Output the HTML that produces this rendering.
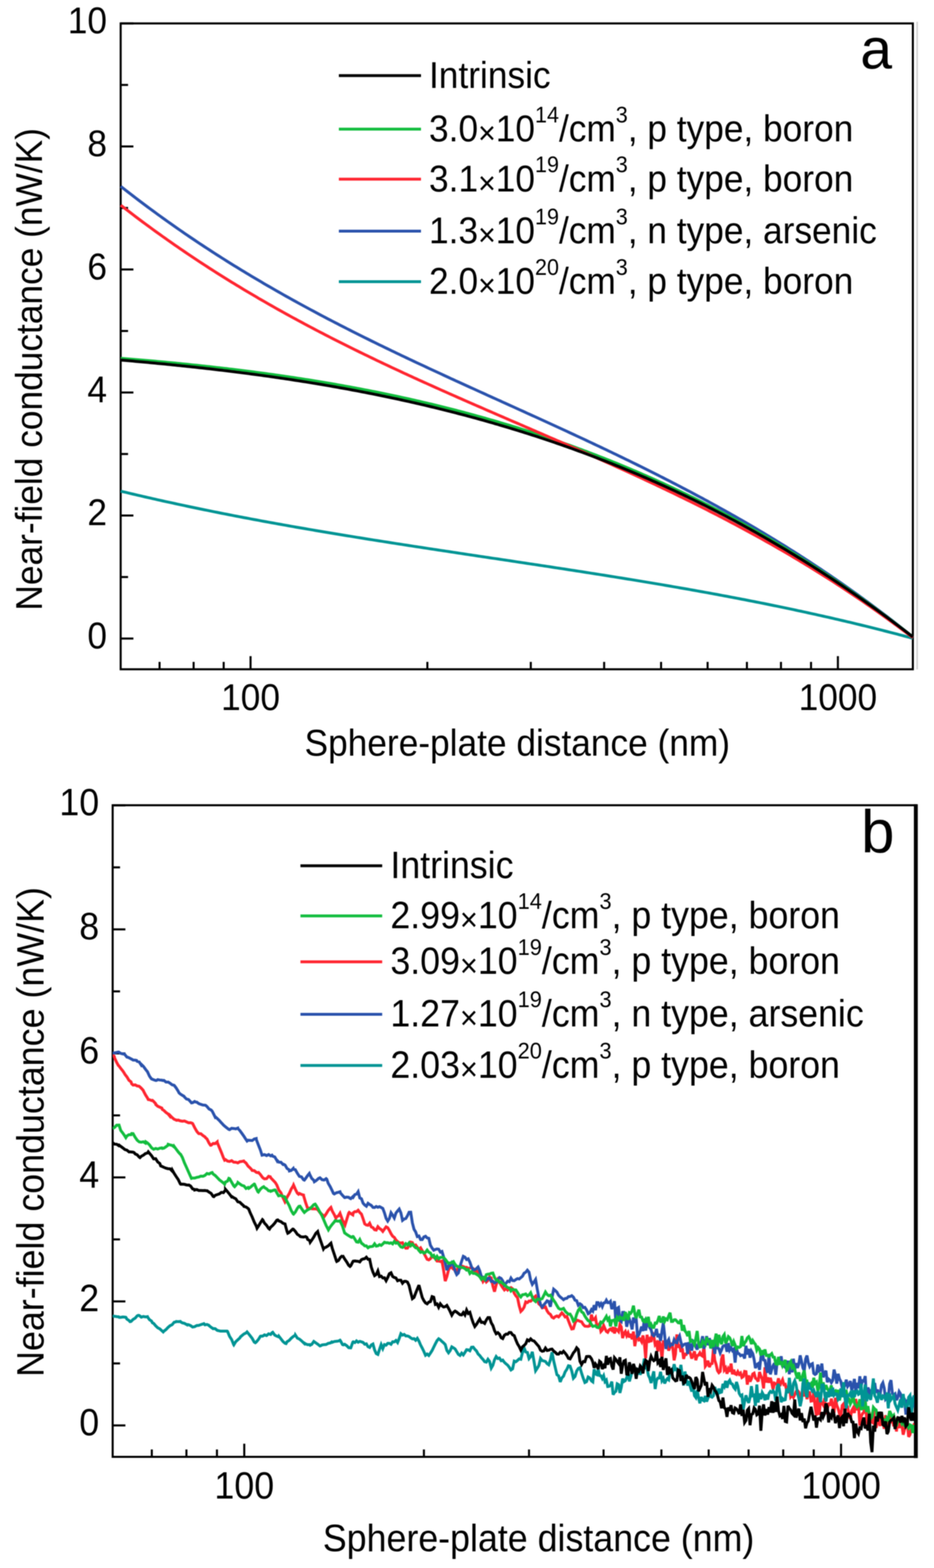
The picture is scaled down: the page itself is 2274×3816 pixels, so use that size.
<!DOCTYPE html>
<html><head><meta charset="utf-8"><title>Near-field conductance</title>
<style>html,body{margin:0;padding:0;background:#fff;}svg{display:block;filter:blur(0.8px);}text{font-family:"Liberation Sans",Arial,sans-serif;fill:#000;}</style>
</head><body>
<svg width="2274" height="3816" viewBox="0 0 2274 3816">
<rect width="2274" height="3816" fill="#fff"/>
<rect x="293.8" y="57.0" width="1928.7" height="1571.8" fill="none" stroke="#000" stroke-width="5.0"/>
<line x1="293.8" y1="1554.0" x2="324.8" y2="1554.0" stroke="#000" stroke-width="5.0"/>
<line x1="293.8" y1="1404.3" x2="311.8" y2="1404.3" stroke="#000" stroke-width="5.0"/>
<line x1="293.8" y1="1254.6" x2="324.8" y2="1254.6" stroke="#000" stroke-width="5.0"/>
<line x1="293.8" y1="1104.9" x2="311.8" y2="1104.9" stroke="#000" stroke-width="5.0"/>
<line x1="293.8" y1="955.2" x2="324.8" y2="955.2" stroke="#000" stroke-width="5.0"/>
<line x1="293.8" y1="805.5" x2="311.8" y2="805.5" stroke="#000" stroke-width="5.0"/>
<line x1="293.8" y1="655.8" x2="324.8" y2="655.8" stroke="#000" stroke-width="5.0"/>
<line x1="293.8" y1="506.1" x2="311.8" y2="506.1" stroke="#000" stroke-width="5.0"/>
<line x1="293.8" y1="356.4" x2="324.8" y2="356.4" stroke="#000" stroke-width="5.0"/>
<line x1="293.8" y1="206.7" x2="311.8" y2="206.7" stroke="#000" stroke-width="5.0"/>
<line x1="293.8" y1="57.0" x2="324.8" y2="57.0" stroke="#000" stroke-width="5.0"/>
<line x1="388.5" y1="1628.8" x2="388.5" y2="1610.8" stroke="#000" stroke-width="5.0"/>
<line x1="471.4" y1="1628.8" x2="471.4" y2="1610.8" stroke="#000" stroke-width="5.0"/>
<line x1="544.6" y1="1628.8" x2="544.6" y2="1610.8" stroke="#000" stroke-width="5.0"/>
<line x1="1040.5" y1="1628.8" x2="1040.5" y2="1610.8" stroke="#000" stroke-width="5.0"/>
<line x1="1292.3" y1="1628.8" x2="1292.3" y2="1610.8" stroke="#000" stroke-width="5.0"/>
<line x1="1470.9" y1="1628.8" x2="1470.9" y2="1610.8" stroke="#000" stroke-width="5.0"/>
<line x1="1609.5" y1="1628.8" x2="1609.5" y2="1610.8" stroke="#000" stroke-width="5.0"/>
<line x1="1722.8" y1="1628.8" x2="1722.8" y2="1610.8" stroke="#000" stroke-width="5.0"/>
<line x1="1818.5" y1="1628.8" x2="1818.5" y2="1610.8" stroke="#000" stroke-width="5.0"/>
<line x1="1901.4" y1="1628.8" x2="1901.4" y2="1610.8" stroke="#000" stroke-width="5.0"/>
<line x1="1974.6" y1="1628.8" x2="1974.6" y2="1610.8" stroke="#000" stroke-width="5.0"/>
<line x1="2040.0" y1="1628.8" x2="2040.0" y2="1596.8" stroke="#000" stroke-width="5.0"/>
<line x1="610.0" y1="1628.8" x2="610.0" y2="1596.8" stroke="#000" stroke-width="5.0"/>
<text transform="translate(260.6,1577.8) scale(1,1.06)" font-size="85.9" text-anchor="end">0</text>
<text transform="translate(260.6,1278.4) scale(1,1.06)" font-size="85.9" text-anchor="end">2</text>
<text transform="translate(260.6,979.0) scale(1,1.06)" font-size="85.9" text-anchor="end">4</text>
<text transform="translate(260.6,679.6) scale(1,1.06)" font-size="85.9" text-anchor="end">6</text>
<text transform="translate(260.6,380.2) scale(1,1.06)" font-size="85.9" text-anchor="end">8</text>
<text transform="translate(260.6,80.8) scale(1,1.06)" font-size="85.9" text-anchor="end">10</text>
<text transform="translate(610.0,1727.5) scale(1,1.06)" font-size="85.9" text-anchor="middle">100</text>
<text transform="translate(2040.0,1727.5) scale(1,1.06)" font-size="85.9" text-anchor="middle">1000</text>
<text transform="translate(741.5,1839) scale(1,1.06)" font-size="85.9">Sphere-plate distance (nm)</text>
<text transform="translate(102,1486) rotate(-90) scale(1,1.06)" font-size="85.9">Near-field conductance (nW/K)</text>
<line x1="2233" y1="53" x2="2233" y2="1629" stroke="#cfcfcf" stroke-width="3.5"/>
<text x="2094.5" y="166.5" font-size="139">a</text>
<line x1="825" y1="184" x2="1025" y2="184" stroke="#000000" stroke-width="7.0"/>
<text transform="translate(1044.5,213.5) scale(1,1.06)" font-size="85.9">Intrinsic</text>
<line x1="825" y1="314.3" x2="1025" y2="314.3" stroke="#12bd3e" stroke-width="7.0"/>
<text transform="translate(1044.5,343.8) scale(1,1.06)" font-size="85.9">3.0<tspan font-size="73.9" dy="6.0">×</tspan><tspan dy="-6.0">10</tspan><tspan font-size="52.4" dy="-43.4">14</tspan><tspan dy="43.4">/cm</tspan><tspan font-size="52.4" dy="-43.4">3</tspan><tspan dy="43.4">, p type, boron</tspan></text>
<line x1="825" y1="436" x2="1025" y2="436" stroke="#ff2530" stroke-width="7.0"/>
<text transform="translate(1044.5,465.5) scale(1,1.06)" font-size="85.9">3.1<tspan font-size="73.9" dy="6.0">×</tspan><tspan dy="-6.0">10</tspan><tspan font-size="52.4" dy="-43.4">19</tspan><tspan dy="43.4">/cm</tspan><tspan font-size="52.4" dy="-43.4">3</tspan><tspan dy="43.4">, p type, boron</tspan></text>
<line x1="825" y1="562.5" x2="1025" y2="562.5" stroke="#2a52ac" stroke-width="7.0"/>
<text transform="translate(1044.5,592.0) scale(1,1.06)" font-size="85.9">1.3<tspan font-size="73.9" dy="6.0">×</tspan><tspan dy="-6.0">10</tspan><tspan font-size="52.4" dy="-43.4">19</tspan><tspan dy="43.4">/cm</tspan><tspan font-size="52.4" dy="-43.4">3</tspan><tspan dy="43.4">, n type, arsenic</tspan></text>
<line x1="825" y1="685.5" x2="1025" y2="685.5" stroke="#009494" stroke-width="7.0"/>
<text transform="translate(1044.5,715.0) scale(1,1.06)" font-size="85.9">2.0<tspan font-size="73.9" dy="6.0">×</tspan><tspan dy="-6.0">10</tspan><tspan font-size="52.4" dy="-43.4">20</tspan><tspan dy="43.4">/cm</tspan><tspan font-size="52.4" dy="-43.4">3</tspan><tspan dy="43.4">, p type, boron</tspan></text>
<g fill="none" stroke-linejoin="round" stroke-linecap="butt">
<path d="M294.0,1195.3 L300.0,1196.8 L306.0,1198.2 L312.0,1199.6 L318.0,1201.1 L324.0,1202.5 L330.0,1203.9 L336.0,1205.3 L342.0,1206.7 L348.0,1208.1 L354.0,1209.5 L360.0,1210.8 L366.0,1212.2 L372.0,1213.6 L378.0,1214.9 L384.0,1216.3 L390.0,1217.6 L396.0,1219.0 L402.0,1220.3 L408.0,1221.6 L414.0,1222.9 L420.0,1224.2 L426.0,1225.5 L432.0,1226.8 L438.0,1228.1 L444.0,1229.4 L450.0,1230.7 L456.0,1232.0 L462.0,1233.2 L468.0,1234.5 L474.0,1235.7 L480.0,1237.0 L486.0,1238.2 L492.0,1239.5 L498.0,1240.7 L504.0,1241.9 L510.0,1243.2 L516.0,1244.4 L522.0,1245.6 L528.0,1246.8 L534.0,1248.0 L540.0,1249.2 L546.0,1250.4 L552.0,1251.5 L558.0,1252.7 L564.0,1253.9 L570.0,1255.1 L576.0,1256.2 L582.0,1257.4 L588.0,1258.5 L594.0,1259.7 L600.0,1260.8 L606.0,1261.9 L612.0,1263.1 L618.0,1264.2 L624.0,1265.3 L630.0,1266.4 L636.0,1267.6 L642.0,1268.7 L648.0,1269.8 L654.0,1270.9 L660.0,1272.0 L666.0,1273.0 L672.0,1274.1 L678.0,1275.2 L684.0,1276.3 L690.0,1277.4 L696.0,1278.4 L702.0,1279.5 L708.0,1280.6 L714.0,1281.6 L720.0,1282.7 L726.0,1283.7 L732.0,1284.8 L738.0,1285.8 L744.0,1286.8 L750.0,1287.9 L756.0,1288.9 L762.0,1289.9 L768.0,1291.0 L774.0,1292.0 L780.0,1293.0 L786.0,1294.0 L792.0,1295.0 L798.0,1296.0 L804.0,1297.0 L810.0,1298.0 L816.0,1299.0 L822.0,1300.0 L828.0,1301.0 L834.0,1302.0 L840.0,1303.0 L846.0,1304.0 L852.0,1304.9 L858.0,1305.9 L864.0,1306.9 L870.0,1307.9 L876.0,1308.8 L882.0,1309.8 L888.0,1310.8 L894.0,1311.7 L900.0,1312.7 L906.0,1313.6 L912.0,1314.6 L918.0,1315.5 L924.0,1316.5 L930.0,1317.4 L936.0,1318.4 L942.0,1319.3 L948.0,1320.3 L954.0,1321.2 L960.0,1322.1 L966.0,1323.1 L972.0,1324.0 L978.0,1324.9 L984.0,1325.9 L990.0,1326.8 L996.0,1327.7 L1002.0,1328.6 L1008.0,1329.6 L1014.0,1330.5 L1020.0,1331.4 L1026.0,1332.3 L1032.0,1333.2 L1038.0,1334.1 L1044.0,1335.1 L1050.0,1336.0 L1056.0,1336.9 L1062.0,1337.8 L1068.0,1338.7 L1074.0,1339.6 L1080.0,1340.5 L1086.0,1341.4 L1092.0,1342.3 L1098.0,1343.2 L1104.0,1344.1 L1110.0,1345.0 L1116.0,1346.0 L1122.0,1346.9 L1128.0,1347.8 L1134.0,1348.7 L1140.0,1349.6 L1146.0,1350.5 L1152.0,1351.4 L1158.0,1352.3 L1164.0,1353.2 L1170.0,1354.1 L1176.0,1355.0 L1182.0,1355.9 L1188.0,1356.8 L1194.0,1357.7 L1200.0,1358.6 L1206.0,1359.4 L1212.0,1360.3 L1218.0,1361.2 L1224.0,1362.1 L1230.0,1363.0 L1236.0,1363.9 L1242.0,1364.8 L1248.0,1365.7 L1254.0,1366.6 L1260.0,1367.6 L1266.0,1368.5 L1272.0,1369.4 L1278.0,1370.3 L1284.0,1371.2 L1290.0,1372.1 L1296.0,1373.0 L1302.0,1373.9 L1308.0,1374.8 L1314.0,1375.7 L1320.0,1376.6 L1326.0,1377.5 L1332.0,1378.4 L1338.0,1379.3 L1344.0,1380.3 L1350.0,1381.2 L1356.0,1382.1 L1362.0,1383.0 L1368.0,1383.9 L1374.0,1384.8 L1380.0,1385.8 L1386.0,1386.7 L1392.0,1387.6 L1398.0,1388.5 L1404.0,1389.5 L1410.0,1390.4 L1416.0,1391.3 L1422.0,1392.3 L1428.0,1393.2 L1434.0,1394.1 L1440.0,1395.1 L1446.0,1396.0 L1452.0,1397.0 L1458.0,1397.9 L1464.0,1398.9 L1470.0,1399.8 L1476.0,1400.8 L1482.0,1401.7 L1488.0,1402.7 L1494.0,1403.6 L1500.0,1404.6 L1506.0,1405.6 L1512.0,1406.5 L1518.0,1407.5 L1524.0,1408.5 L1530.0,1409.5 L1536.0,1410.4 L1542.0,1411.4 L1548.0,1412.4 L1554.0,1413.4 L1560.0,1414.4 L1566.0,1415.4 L1572.0,1416.4 L1578.0,1417.4 L1584.0,1418.4 L1590.0,1419.4 L1596.0,1420.4 L1602.0,1421.4 L1608.0,1422.4 L1614.0,1423.4 L1620.0,1424.5 L1626.0,1425.5 L1632.0,1426.5 L1638.0,1427.6 L1644.0,1428.6 L1650.0,1429.6 L1656.0,1430.7 L1662.0,1431.7 L1668.0,1432.8 L1674.0,1433.8 L1680.0,1434.9 L1686.0,1436.0 L1692.0,1437.0 L1698.0,1438.1 L1704.0,1439.2 L1710.0,1440.3 L1716.0,1441.4 L1722.0,1442.4 L1728.0,1443.5 L1734.0,1444.6 L1740.0,1445.7 L1746.0,1446.8 L1752.0,1448.0 L1758.0,1449.1 L1764.0,1450.2 L1770.0,1451.3 L1776.0,1452.5 L1782.0,1453.6 L1788.0,1454.7 L1794.0,1455.9 L1800.0,1457.0 L1806.0,1458.2 L1812.0,1459.3 L1818.0,1460.5 L1824.0,1461.7 L1830.0,1462.9 L1836.0,1464.0 L1842.0,1465.2 L1848.0,1466.4 L1854.0,1467.6 L1860.0,1468.8 L1866.0,1470.0 L1872.0,1471.2 L1878.0,1472.5 L1884.0,1473.7 L1890.0,1474.9 L1896.0,1476.2 L1902.0,1477.4 L1908.0,1478.6 L1914.0,1479.9 L1920.0,1481.2 L1926.0,1482.4 L1932.0,1483.7 L1938.0,1485.0 L1944.0,1486.3 L1950.0,1487.5 L1956.0,1488.8 L1962.0,1490.1 L1968.0,1491.5 L1974.0,1492.8 L1980.0,1494.1 L1986.0,1495.4 L1992.0,1496.8 L1998.0,1498.1 L2004.0,1499.5 L2010.0,1500.8 L2016.0,1502.2 L2022.0,1503.5 L2028.0,1504.9 L2034.0,1506.3 L2040.0,1507.7 L2046.0,1509.1 L2052.0,1510.5 L2058.0,1511.9 L2064.0,1513.3 L2070.0,1514.7 L2076.0,1516.2 L2082.0,1517.6 L2088.0,1519.1 L2094.0,1520.5 L2100.0,1522.0 L2106.0,1523.4 L2112.0,1524.9 L2118.0,1526.4 L2124.0,1527.9 L2130.0,1529.4 L2136.0,1530.9 L2142.0,1532.4 L2148.0,1533.9 L2154.0,1535.5 L2160.0,1537.0 L2166.0,1538.6 L2172.0,1540.1 L2178.0,1541.7 L2184.0,1543.2 L2190.0,1544.8 L2196.0,1546.4 L2202.0,1548.0 L2208.0,1549.6 L2214.0,1551.2 L2220.0,1552.8 L2222.5,1553.5" stroke="#009494" stroke-width="7.0"/>
<path d="M294.0,453.6 L300.0,458.3 L306.0,463.0 L312.0,467.6 L318.0,472.3 L324.0,476.9 L330.0,481.5 L336.0,486.1 L342.0,490.6 L348.0,495.1 L354.0,499.6 L360.0,504.1 L366.0,508.5 L372.0,512.9 L378.0,517.3 L384.0,521.7 L390.0,526.0 L396.0,530.4 L402.0,534.7 L408.0,539.0 L414.0,543.2 L420.0,547.4 L426.0,551.7 L432.0,555.8 L438.0,560.0 L444.0,564.2 L450.0,568.3 L456.0,572.4 L462.0,576.5 L468.0,580.5 L474.0,584.5 L480.0,588.6 L486.0,592.6 L492.0,596.5 L498.0,600.5 L504.0,604.4 L510.0,608.3 L516.0,612.2 L522.0,616.1 L528.0,620.0 L534.0,623.8 L540.0,627.6 L546.0,631.4 L552.0,635.2 L558.0,638.9 L564.0,642.7 L570.0,646.4 L576.0,650.1 L582.0,653.8 L588.0,657.4 L594.0,661.1 L600.0,664.7 L606.0,668.3 L612.0,671.9 L618.0,675.5 L624.0,679.1 L630.0,682.6 L636.0,686.1 L642.0,689.7 L648.0,693.2 L654.0,696.6 L660.0,700.1 L666.0,703.5 L672.0,707.0 L678.0,710.4 L684.0,713.8 L690.0,717.2 L696.0,720.6 L702.0,723.9 L708.0,727.3 L714.0,730.6 L720.0,733.9 L726.0,737.2 L732.0,740.5 L738.0,743.8 L744.0,747.0 L750.0,750.3 L756.0,753.5 L762.0,756.7 L768.0,759.9 L774.0,763.1 L780.0,766.3 L786.0,769.5 L792.0,772.6 L798.0,775.8 L804.0,778.9 L810.0,782.0 L816.0,785.1 L822.0,788.2 L828.0,791.3 L834.0,794.4 L840.0,797.4 L846.0,800.5 L852.0,803.5 L858.0,806.6 L864.0,809.6 L870.0,812.6 L876.0,815.6 L882.0,818.6 L888.0,821.6 L894.0,824.5 L900.0,827.5 L906.0,830.5 L912.0,833.4 L918.0,836.4 L924.0,839.3 L930.0,842.2 L936.0,845.1 L942.0,848.0 L948.0,850.9 L954.0,853.8 L960.0,856.7 L966.0,859.6 L972.0,862.4 L978.0,865.3 L984.0,868.1 L990.0,871.0 L996.0,873.8 L1002.0,876.7 L1008.0,879.5 L1014.0,882.3 L1020.0,885.1 L1026.0,887.9 L1032.0,890.7 L1038.0,893.5 L1044.0,896.3 L1050.0,899.1 L1056.0,901.9 L1062.0,904.7 L1068.0,907.4 L1074.0,910.2 L1080.0,913.0 L1086.0,915.7 L1092.0,918.5 L1098.0,921.3 L1104.0,924.0 L1110.0,926.8 L1116.0,929.5 L1122.0,932.2 L1128.0,935.0 L1134.0,937.7 L1140.0,940.5 L1146.0,943.2 L1152.0,945.9 L1158.0,948.6 L1164.0,951.4 L1170.0,954.1 L1176.0,956.8 L1182.0,959.5 L1188.0,962.3 L1194.0,965.0 L1200.0,967.7 L1206.0,970.4 L1212.0,973.1 L1218.0,975.8 L1224.0,978.6 L1230.0,981.3 L1236.0,984.0 L1242.0,986.7 L1248.0,989.4 L1254.0,992.1 L1260.0,994.9 L1266.0,997.6 L1272.0,1000.3 L1278.0,1003.0 L1284.0,1005.8 L1290.0,1008.5 L1296.0,1011.2 L1302.0,1013.9 L1308.0,1016.7 L1314.0,1019.4 L1320.0,1022.1 L1326.0,1024.9 L1332.0,1027.6 L1338.0,1030.4 L1344.0,1033.1 L1350.0,1035.9 L1356.0,1038.6 L1362.0,1041.4 L1368.0,1044.1 L1374.0,1046.9 L1380.0,1049.7 L1386.0,1052.5 L1392.0,1055.2 L1398.0,1058.0 L1404.0,1060.8 L1410.0,1063.6 L1416.0,1066.4 L1422.0,1069.2 L1428.0,1072.0 L1434.0,1074.8 L1440.0,1077.6 L1446.0,1080.5 L1452.0,1083.3 L1458.0,1086.1 L1464.0,1089.0 L1470.0,1091.8 L1476.0,1094.7 L1482.0,1097.6 L1488.0,1100.4 L1494.0,1103.3 L1500.0,1106.2 L1506.0,1109.1 L1512.0,1112.0 L1518.0,1114.9 L1524.0,1117.8 L1530.0,1120.7 L1536.0,1123.6 L1542.0,1126.6 L1548.0,1129.5 L1554.0,1132.5 L1560.0,1135.4 L1566.0,1138.4 L1572.0,1141.4 L1578.0,1144.4 L1584.0,1147.4 L1590.0,1150.4 L1596.0,1153.4 L1602.0,1156.4 L1608.0,1159.5 L1614.0,1162.5 L1620.0,1165.6 L1626.0,1168.6 L1632.0,1171.7 L1638.0,1174.8 L1644.0,1177.9 L1650.0,1181.0 L1656.0,1184.1 L1662.0,1187.3 L1668.0,1190.4 L1674.0,1193.6 L1680.0,1196.7 L1686.0,1199.9 L1692.0,1203.1 L1698.0,1206.3 L1704.0,1209.5 L1710.0,1212.7 L1716.0,1216.0 L1722.0,1219.2 L1728.0,1222.5 L1734.0,1225.8 L1740.0,1229.0 L1746.0,1232.3 L1752.0,1235.7 L1758.0,1239.0 L1764.0,1242.3 L1770.0,1245.7 L1776.0,1249.1 L1782.0,1252.5 L1788.0,1255.9 L1794.0,1259.3 L1800.0,1262.7 L1806.0,1266.1 L1812.0,1269.6 L1818.0,1273.1 L1824.0,1276.6 L1830.0,1280.1 L1836.0,1283.6 L1842.0,1287.1 L1848.0,1290.7 L1854.0,1294.2 L1860.0,1297.8 L1866.0,1301.4 L1872.0,1305.0 L1878.0,1308.7 L1884.0,1312.3 L1890.0,1316.0 L1896.0,1319.7 L1902.0,1323.4 L1908.0,1327.1 L1914.0,1330.8 L1920.0,1334.6 L1926.0,1338.4 L1932.0,1342.1 L1938.0,1345.9 L1944.0,1349.8 L1950.0,1353.6 L1956.0,1357.5 L1962.0,1361.4 L1968.0,1365.3 L1974.0,1369.2 L1980.0,1373.1 L1986.0,1377.1 L1992.0,1381.1 L1998.0,1385.0 L2004.0,1389.1 L2010.0,1393.1 L2016.0,1397.2 L2022.0,1401.2 L2028.0,1405.3 L2034.0,1409.4 L2040.0,1413.6 L2046.0,1417.7 L2052.0,1421.9 L2058.0,1426.1 L2064.0,1430.3 L2070.0,1434.6 L2076.0,1438.9 L2082.0,1443.1 L2088.0,1447.4 L2094.0,1451.8 L2100.0,1456.1 L2106.0,1460.5 L2112.0,1464.9 L2118.0,1469.3 L2124.0,1473.8 L2130.0,1478.2 L2136.0,1482.7 L2142.0,1487.2 L2148.0,1491.8 L2154.0,1496.3 L2160.0,1500.9 L2166.0,1505.5 L2172.0,1510.1 L2178.0,1514.8 L2184.0,1519.5 L2190.0,1524.2 L2196.0,1528.9 L2202.0,1533.7 L2208.0,1538.4 L2214.0,1543.2 L2220.0,1548.1 L2222.5,1550.1" stroke="#2a52ac" stroke-width="7.0"/>
<path d="M294.0,872.0 L300.0,872.4 L306.0,872.9 L312.0,873.4 L318.0,873.9 L324.0,874.4 L330.0,874.9 L336.0,875.4 L342.0,875.9 L348.0,876.5 L354.0,877.0 L360.0,877.5 L366.0,878.0 L372.0,878.6 L378.0,879.1 L384.0,879.7 L390.0,880.2 L396.0,880.8 L402.0,881.3 L408.0,881.9 L414.0,882.5 L420.0,883.0 L426.0,883.6 L432.0,884.2 L438.0,884.8 L444.0,885.4 L450.0,886.0 L456.0,886.6 L462.0,887.2 L468.0,887.9 L474.0,888.5 L480.0,889.1 L486.0,889.7 L492.0,890.4 L498.0,891.0 L504.0,891.7 L510.0,892.3 L516.0,893.0 L522.0,893.7 L528.0,894.4 L534.0,895.1 L540.0,895.7 L546.0,896.4 L552.0,897.1 L558.0,897.9 L564.0,898.6 L570.0,899.3 L576.0,900.0 L582.0,900.8 L588.0,901.5 L594.0,902.3 L600.0,903.0 L606.0,903.8 L612.0,904.5 L618.0,905.3 L624.0,906.1 L630.0,906.9 L636.0,907.7 L642.0,908.5 L648.0,909.3 L654.0,910.1 L660.0,911.0 L666.0,911.8 L672.0,912.7 L678.0,913.5 L684.0,914.4 L690.0,915.2 L696.0,916.1 L702.0,917.0 L708.0,917.9 L714.0,918.8 L720.0,919.7 L726.0,920.6 L732.0,921.5 L738.0,922.5 L744.0,923.4 L750.0,924.3 L756.0,925.3 L762.0,926.3 L768.0,927.2 L774.0,928.2 L780.0,929.2 L786.0,930.2 L792.0,931.2 L798.0,932.2 L804.0,933.3 L810.0,934.3 L816.0,935.3 L822.0,936.4 L828.0,937.4 L834.0,938.5 L840.0,939.6 L846.0,940.7 L852.0,941.8 L858.0,942.9 L864.0,944.0 L870.0,945.1 L876.0,946.3 L882.0,947.4 L888.0,948.6 L894.0,949.7 L900.0,950.9 L906.0,952.1 L912.0,953.3 L918.0,954.5 L924.0,955.7 L930.0,956.9 L936.0,958.1 L942.0,959.4 L948.0,960.6 L954.0,961.9 L960.0,963.2 L966.0,964.5 L972.0,965.7 L978.0,967.1 L984.0,968.4 L990.0,969.7 L996.0,971.0 L1002.0,972.4 L1008.0,973.7 L1014.0,975.1 L1020.0,976.5 L1026.0,977.9 L1032.0,979.3 L1038.0,980.7 L1044.0,982.1 L1050.0,983.5 L1056.0,985.0 L1062.0,986.4 L1068.0,987.9 L1074.0,989.4 L1080.0,990.9 L1086.0,992.4 L1092.0,993.9 L1098.0,995.4 L1104.0,997.0 L1110.0,998.5 L1116.0,1000.1 L1122.0,1001.7 L1128.0,1003.2 L1134.0,1004.8 L1140.0,1006.4 L1146.0,1008.1 L1152.0,1009.7 L1158.0,1011.3 L1164.0,1013.0 L1170.0,1014.7 L1176.0,1016.4 L1182.0,1018.0 L1188.0,1019.8 L1194.0,1021.5 L1200.0,1023.2 L1206.0,1024.9 L1212.0,1026.7 L1218.0,1028.5 L1224.0,1030.3 L1230.0,1032.1 L1236.0,1033.9 L1242.0,1035.7 L1248.0,1037.5 L1254.0,1039.4 L1260.0,1041.2 L1266.0,1043.1 L1272.0,1045.0 L1278.0,1046.9 L1284.0,1048.8 L1290.0,1050.7 L1296.0,1052.7 L1302.0,1054.6 L1308.0,1056.6 L1314.0,1058.6 L1320.0,1060.6 L1326.0,1062.6 L1332.0,1064.6 L1338.0,1066.6 L1344.0,1068.7 L1350.0,1070.8 L1356.0,1072.8 L1362.0,1074.9 L1368.0,1077.0 L1374.0,1079.2 L1380.0,1081.3 L1386.0,1083.4 L1392.0,1085.6 L1398.0,1087.8 L1404.0,1090.0 L1410.0,1092.2 L1416.0,1094.4 L1422.0,1096.7 L1428.0,1098.9 L1434.0,1101.2 L1440.0,1103.5 L1446.0,1105.7 L1452.0,1108.1 L1458.0,1110.4 L1464.0,1112.7 L1470.0,1115.1 L1476.0,1117.5 L1482.0,1119.8 L1488.0,1122.2 L1494.0,1124.7 L1500.0,1127.1 L1506.0,1129.6 L1512.0,1132.0 L1518.0,1134.5 L1524.0,1137.0 L1530.0,1139.5 L1536.0,1142.0 L1542.0,1144.6 L1548.0,1147.1 L1554.0,1149.7 L1560.0,1152.3 L1566.0,1154.9 L1572.0,1157.5 L1578.0,1160.2 L1584.0,1162.8 L1590.0,1165.5 L1596.0,1168.2 L1602.0,1170.9 L1608.0,1173.6 L1614.0,1176.3 L1620.0,1179.1 L1626.0,1181.9 L1632.0,1184.7 L1638.0,1187.5 L1644.0,1190.3 L1650.0,1193.1 L1656.0,1196.0 L1662.0,1198.9 L1668.0,1201.7 L1674.0,1204.6 L1680.0,1207.6 L1686.0,1210.5 L1692.0,1213.5 L1698.0,1216.4 L1704.0,1219.4 L1710.0,1222.4 L1716.0,1225.5 L1722.0,1228.5 L1728.0,1231.6 L1734.0,1234.7 L1740.0,1237.8 L1746.0,1240.9 L1752.0,1244.0 L1758.0,1247.2 L1764.0,1250.3 L1770.0,1253.5 L1776.0,1256.7 L1782.0,1259.9 L1788.0,1263.2 L1794.0,1266.4 L1800.0,1269.7 L1806.0,1273.0 L1812.0,1276.3 L1818.0,1279.7 L1824.0,1283.0 L1830.0,1286.4 L1836.0,1289.8 L1842.0,1293.2 L1848.0,1296.6 L1854.0,1300.1 L1860.0,1303.5 L1866.0,1307.0 L1872.0,1310.5 L1878.0,1314.0 L1884.0,1317.6 L1890.0,1321.1 L1896.0,1324.7 L1902.0,1328.3 L1908.0,1331.9 L1914.0,1335.6 L1920.0,1339.2 L1926.0,1342.9 L1932.0,1346.6 L1938.0,1350.3 L1944.0,1354.0 L1950.0,1357.8 L1956.0,1361.6 L1962.0,1365.4 L1968.0,1369.2 L1974.0,1373.0 L1980.0,1376.9 L1986.0,1380.7 L1992.0,1384.6 L1998.0,1388.5 L2004.0,1392.5 L2010.0,1396.4 L2016.0,1400.4 L2022.0,1404.4 L2028.0,1408.4 L2034.0,1412.4 L2040.0,1416.5 L2046.0,1420.6 L2052.0,1424.7 L2058.0,1428.8 L2064.0,1432.9 L2070.0,1437.1 L2076.0,1441.3 L2082.0,1445.5 L2088.0,1449.7 L2094.0,1453.9 L2100.0,1458.2 L2106.0,1462.5 L2112.0,1466.8 L2118.0,1471.1 L2124.0,1475.5 L2130.0,1479.9 L2136.0,1484.3 L2142.0,1488.7 L2148.0,1493.1 L2154.0,1497.6 L2160.0,1502.0 L2166.0,1506.5 L2172.0,1511.1 L2178.0,1515.6 L2184.0,1520.2 L2190.0,1524.8 L2196.0,1529.4 L2202.0,1534.0 L2208.0,1538.7 L2214.0,1543.3 L2220.0,1548.0 L2222.5,1550.0" stroke="#12bd3e" stroke-width="7.0"/>
<path d="M294.0,499.4 L300.0,504.1 L306.0,508.7 L312.0,513.3 L318.0,517.9 L324.0,522.5 L330.0,527.1 L336.0,531.6 L342.0,536.1 L348.0,540.6 L354.0,545.0 L360.0,549.4 L366.0,553.8 L372.0,558.2 L378.0,562.6 L384.0,566.9 L390.0,571.2 L396.0,575.5 L402.0,579.7 L408.0,584.0 L414.0,588.2 L420.0,592.4 L426.0,596.6 L432.0,600.7 L438.0,604.8 L444.0,608.9 L450.0,613.0 L456.0,617.1 L462.0,621.1 L468.0,625.1 L474.0,629.1 L480.0,633.1 L486.0,637.1 L492.0,641.0 L498.0,644.9 L504.0,648.8 L510.0,652.7 L516.0,656.5 L522.0,660.4 L528.0,664.2 L534.0,668.0 L540.0,671.8 L546.0,675.5 L552.0,679.3 L558.0,683.0 L564.0,686.7 L570.0,690.3 L576.0,694.0 L582.0,697.6 L588.0,701.3 L594.0,704.9 L600.0,708.5 L606.0,712.0 L612.0,715.6 L618.0,719.1 L624.0,722.6 L630.0,726.2 L636.0,729.6 L642.0,733.1 L648.0,736.6 L654.0,740.0 L660.0,743.4 L666.0,746.8 L672.0,750.2 L678.0,753.6 L684.0,756.9 L690.0,760.3 L696.0,763.6 L702.0,766.9 L708.0,770.2 L714.0,773.5 L720.0,776.7 L726.0,780.0 L732.0,783.2 L738.0,786.4 L744.0,789.7 L750.0,792.8 L756.0,796.0 L762.0,799.2 L768.0,802.3 L774.0,805.5 L780.0,808.6 L786.0,811.7 L792.0,814.8 L798.0,817.9 L804.0,821.0 L810.0,824.1 L816.0,827.1 L822.0,830.1 L828.0,833.2 L834.0,836.2 L840.0,839.2 L846.0,842.2 L852.0,845.2 L858.0,848.1 L864.0,851.1 L870.0,854.0 L876.0,857.0 L882.0,859.9 L888.0,862.8 L894.0,865.7 L900.0,868.6 L906.0,871.5 L912.0,874.4 L918.0,877.3 L924.0,880.1 L930.0,883.0 L936.0,885.8 L942.0,888.7 L948.0,891.5 L954.0,894.3 L960.0,897.1 L966.0,899.9 L972.0,902.7 L978.0,905.5 L984.0,908.3 L990.0,911.0 L996.0,913.8 L1002.0,916.5 L1008.0,919.3 L1014.0,922.0 L1020.0,924.8 L1026.0,927.5 L1032.0,930.2 L1038.0,932.9 L1044.0,935.6 L1050.0,938.3 L1056.0,941.0 L1062.0,943.7 L1068.0,946.4 L1074.0,949.1 L1080.0,951.7 L1086.0,954.4 L1092.0,957.1 L1098.0,959.7 L1104.0,962.4 L1110.0,965.0 L1116.0,967.7 L1122.0,970.3 L1128.0,973.0 L1134.0,975.6 L1140.0,978.2 L1146.0,980.9 L1152.0,983.5 L1158.0,986.1 L1164.0,988.7 L1170.0,991.3 L1176.0,993.9 L1182.0,996.6 L1188.0,999.2 L1194.0,1001.8 L1200.0,1004.4 L1206.0,1007.0 L1212.0,1009.6 L1218.0,1012.2 L1224.0,1014.8 L1230.0,1017.4 L1236.0,1020.0 L1242.0,1022.6 L1248.0,1025.2 L1254.0,1027.7 L1260.0,1030.3 L1266.0,1032.9 L1272.0,1035.5 L1278.0,1038.1 L1284.0,1040.7 L1290.0,1043.3 L1296.0,1045.9 L1302.0,1048.5 L1308.0,1051.1 L1314.0,1053.7 L1320.0,1056.3 L1326.0,1058.9 L1332.0,1061.5 L1338.0,1064.1 L1344.0,1066.7 L1350.0,1069.3 L1356.0,1071.9 L1362.0,1074.5 L1368.0,1077.1 L1374.0,1079.7 L1380.0,1082.3 L1386.0,1085.0 L1392.0,1087.6 L1398.0,1090.2 L1404.0,1092.8 L1410.0,1095.5 L1416.0,1098.1 L1422.0,1100.8 L1428.0,1103.4 L1434.0,1106.0 L1440.0,1108.7 L1446.0,1111.4 L1452.0,1114.0 L1458.0,1116.7 L1464.0,1119.4 L1470.0,1122.0 L1476.0,1124.7 L1482.0,1127.4 L1488.0,1130.1 L1494.0,1132.8 L1500.0,1135.5 L1506.0,1138.2 L1512.0,1140.9 L1518.0,1143.7 L1524.0,1146.4 L1530.0,1149.1 L1536.0,1151.9 L1542.0,1154.6 L1548.0,1157.4 L1554.0,1160.2 L1560.0,1162.9 L1566.0,1165.7 L1572.0,1168.5 L1578.0,1171.3 L1584.0,1174.1 L1590.0,1176.9 L1596.0,1179.7 L1602.0,1182.6 L1608.0,1185.4 L1614.0,1188.3 L1620.0,1191.1 L1626.0,1194.0 L1632.0,1196.9 L1638.0,1199.7 L1644.0,1202.6 L1650.0,1205.5 L1656.0,1208.5 L1662.0,1211.4 L1668.0,1214.3 L1674.0,1217.3 L1680.0,1220.2 L1686.0,1223.2 L1692.0,1226.2 L1698.0,1229.2 L1704.0,1232.2 L1710.0,1235.2 L1716.0,1238.2 L1722.0,1241.2 L1728.0,1244.3 L1734.0,1247.3 L1740.0,1250.4 L1746.0,1253.5 L1752.0,1256.6 L1758.0,1259.7 L1764.0,1262.8 L1770.0,1266.0 L1776.0,1269.1 L1782.0,1272.3 L1788.0,1275.5 L1794.0,1278.7 L1800.0,1281.9 L1806.0,1285.1 L1812.0,1288.3 L1818.0,1291.6 L1824.0,1294.8 L1830.0,1298.1 L1836.0,1301.4 L1842.0,1304.7 L1848.0,1308.0 L1854.0,1311.3 L1860.0,1314.7 L1866.0,1318.1 L1872.0,1321.4 L1878.0,1324.8 L1884.0,1328.3 L1890.0,1331.7 L1896.0,1335.1 L1902.0,1338.6 L1908.0,1342.1 L1914.0,1345.6 L1920.0,1349.1 L1926.0,1352.6 L1932.0,1356.2 L1938.0,1359.7 L1944.0,1363.3 L1950.0,1366.9 L1956.0,1370.5 L1962.0,1374.2 L1968.0,1377.8 L1974.0,1381.5 L1980.0,1385.2 L1986.0,1388.9 L1992.0,1392.7 L1998.0,1396.4 L2004.0,1400.2 L2010.0,1404.0 L2016.0,1407.8 L2022.0,1411.6 L2028.0,1415.4 L2034.0,1419.3 L2040.0,1423.2 L2046.0,1427.1 L2052.0,1431.0 L2058.0,1435.0 L2064.0,1439.0 L2070.0,1443.0 L2076.0,1447.0 L2082.0,1451.0 L2088.0,1455.1 L2094.0,1459.1 L2100.0,1463.2 L2106.0,1467.4 L2112.0,1471.5 L2118.0,1475.7 L2124.0,1479.9 L2130.0,1484.1 L2136.0,1488.3 L2142.0,1492.6 L2148.0,1496.8 L2154.0,1501.1 L2160.0,1505.5 L2166.0,1509.8 L2172.0,1514.2 L2178.0,1518.6 L2184.0,1523.0 L2190.0,1527.4 L2196.0,1531.9 L2202.0,1536.4 L2208.0,1540.9 L2214.0,1545.5 L2220.0,1550.0 L2222.5,1551.9" stroke="#ff2530" stroke-width="7.0"/>
<path d="M294.0,876.2 L300.0,876.7 L306.0,877.2 L312.0,877.8 L318.0,878.3 L324.0,878.8 L330.0,879.4 L336.0,879.9 L342.0,880.4 L348.0,881.0 L354.0,881.5 L360.0,882.1 L366.0,882.7 L372.0,883.2 L378.0,883.8 L384.0,884.4 L390.0,885.0 L396.0,885.5 L402.0,886.1 L408.0,886.7 L414.0,887.3 L420.0,887.9 L426.0,888.5 L432.0,889.2 L438.0,889.8 L444.0,890.4 L450.0,891.0 L456.0,891.7 L462.0,892.3 L468.0,893.0 L474.0,893.6 L480.0,894.3 L486.0,894.9 L492.0,895.6 L498.0,896.3 L504.0,896.9 L510.0,897.6 L516.0,898.3 L522.0,899.0 L528.0,899.7 L534.0,900.4 L540.0,901.1 L546.0,901.9 L552.0,902.6 L558.0,903.3 L564.0,904.1 L570.0,904.8 L576.0,905.6 L582.0,906.3 L588.0,907.1 L594.0,907.9 L600.0,908.6 L606.0,909.4 L612.0,910.2 L618.0,911.0 L624.0,911.8 L630.0,912.6 L636.0,913.4 L642.0,914.3 L648.0,915.1 L654.0,915.9 L660.0,916.8 L666.0,917.6 L672.0,918.5 L678.0,919.4 L684.0,920.3 L690.0,921.1 L696.0,922.0 L702.0,922.9 L708.0,923.8 L714.0,924.8 L720.0,925.7 L726.0,926.6 L732.0,927.5 L738.0,928.5 L744.0,929.4 L750.0,930.4 L756.0,931.4 L762.0,932.4 L768.0,933.3 L774.0,934.3 L780.0,935.3 L786.0,936.3 L792.0,937.4 L798.0,938.4 L804.0,939.4 L810.0,940.5 L816.0,941.5 L822.0,942.6 L828.0,943.7 L834.0,944.7 L840.0,945.8 L846.0,946.9 L852.0,948.0 L858.0,949.2 L864.0,950.3 L870.0,951.4 L876.0,952.6 L882.0,953.7 L888.0,954.9 L894.0,956.0 L900.0,957.2 L906.0,958.4 L912.0,959.6 L918.0,960.8 L924.0,962.0 L930.0,963.3 L936.0,964.5 L942.0,965.8 L948.0,967.0 L954.0,968.3 L960.0,969.6 L966.0,970.8 L972.0,972.1 L978.0,973.5 L984.0,974.8 L990.0,976.1 L996.0,977.4 L1002.0,978.8 L1008.0,980.2 L1014.0,981.5 L1020.0,982.9 L1026.0,984.3 L1032.0,985.7 L1038.0,987.1 L1044.0,988.5 L1050.0,990.0 L1056.0,991.4 L1062.0,992.9 L1068.0,994.3 L1074.0,995.8 L1080.0,997.3 L1086.0,998.8 L1092.0,1000.3 L1098.0,1001.8 L1104.0,1003.4 L1110.0,1004.9 L1116.0,1006.5 L1122.0,1008.1 L1128.0,1009.6 L1134.0,1011.2 L1140.0,1012.8 L1146.0,1014.5 L1152.0,1016.1 L1158.0,1017.7 L1164.0,1019.4 L1170.0,1021.0 L1176.0,1022.7 L1182.0,1024.4 L1188.0,1026.1 L1194.0,1027.8 L1200.0,1029.5 L1206.0,1031.3 L1212.0,1033.0 L1218.0,1034.8 L1224.0,1036.6 L1230.0,1038.3 L1236.0,1040.1 L1242.0,1042.0 L1248.0,1043.8 L1254.0,1045.6 L1260.0,1047.5 L1266.0,1049.3 L1272.0,1051.2 L1278.0,1053.1 L1284.0,1055.0 L1290.0,1056.9 L1296.0,1058.8 L1302.0,1060.8 L1308.0,1062.7 L1314.0,1064.7 L1320.0,1066.7 L1326.0,1068.7 L1332.0,1070.7 L1338.0,1072.7 L1344.0,1074.8 L1350.0,1076.8 L1356.0,1078.9 L1362.0,1080.9 L1368.0,1083.0 L1374.0,1085.1 L1380.0,1087.3 L1386.0,1089.4 L1392.0,1091.5 L1398.0,1093.7 L1404.0,1095.9 L1410.0,1098.1 L1416.0,1100.3 L1422.0,1102.5 L1428.0,1104.7 L1434.0,1107.0 L1440.0,1109.2 L1446.0,1111.5 L1452.0,1113.8 L1458.0,1116.1 L1464.0,1118.4 L1470.0,1120.8 L1476.0,1123.1 L1482.0,1125.5 L1488.0,1127.8 L1494.0,1130.2 L1500.0,1132.7 L1506.0,1135.1 L1512.0,1137.5 L1518.0,1140.0 L1524.0,1142.4 L1530.0,1144.9 L1536.0,1147.4 L1542.0,1150.0 L1548.0,1152.5 L1554.0,1155.0 L1560.0,1157.6 L1566.0,1160.2 L1572.0,1162.8 L1578.0,1165.4 L1584.0,1168.0 L1590.0,1170.7 L1596.0,1173.3 L1602.0,1176.0 L1608.0,1178.7 L1614.0,1181.4 L1620.0,1184.1 L1626.0,1186.9 L1632.0,1189.6 L1638.0,1192.4 L1644.0,1195.2 L1650.0,1198.0 L1656.0,1200.8 L1662.0,1203.6 L1668.0,1206.5 L1674.0,1209.4 L1680.0,1212.3 L1686.0,1215.2 L1692.0,1218.1 L1698.0,1221.0 L1704.0,1224.0 L1710.0,1227.0 L1716.0,1229.9 L1722.0,1233.0 L1728.0,1236.0 L1734.0,1239.0 L1740.0,1242.1 L1746.0,1245.2 L1752.0,1248.3 L1758.0,1251.4 L1764.0,1254.5 L1770.0,1257.6 L1776.0,1260.8 L1782.0,1264.0 L1788.0,1267.2 L1794.0,1270.4 L1800.0,1273.6 L1806.0,1276.9 L1812.0,1280.2 L1818.0,1283.5 L1824.0,1286.8 L1830.0,1290.1 L1836.0,1293.4 L1842.0,1296.8 L1848.0,1300.2 L1854.0,1303.6 L1860.0,1307.0 L1866.0,1310.5 L1872.0,1313.9 L1878.0,1317.4 L1884.0,1320.9 L1890.0,1324.4 L1896.0,1327.9 L1902.0,1331.5 L1908.0,1335.0 L1914.0,1338.6 L1920.0,1342.2 L1926.0,1345.9 L1932.0,1349.5 L1938.0,1353.2 L1944.0,1356.9 L1950.0,1360.6 L1956.0,1364.3 L1962.0,1368.0 L1968.0,1371.8 L1974.0,1375.6 L1980.0,1379.4 L1986.0,1383.2 L1992.0,1387.0 L1998.0,1390.9 L2004.0,1394.8 L2010.0,1398.7 L2016.0,1402.6 L2022.0,1406.5 L2028.0,1410.5 L2034.0,1414.5 L2040.0,1418.5 L2046.0,1422.5 L2052.0,1426.5 L2058.0,1430.6 L2064.0,1434.7 L2070.0,1438.8 L2076.0,1442.9 L2082.0,1447.0 L2088.0,1451.2 L2094.0,1455.4 L2100.0,1459.6 L2106.0,1463.8 L2112.0,1468.1 L2118.0,1472.3 L2124.0,1476.6 L2130.0,1480.9 L2136.0,1485.3 L2142.0,1489.6 L2148.0,1494.0 L2154.0,1498.4 L2160.0,1502.8 L2166.0,1507.2 L2172.0,1511.7 L2178.0,1516.2 L2184.0,1520.7 L2190.0,1525.2 L2196.0,1529.7 L2202.0,1534.3 L2208.0,1538.9 L2214.0,1543.5 L2220.0,1548.1 L2222.5,1550.1" stroke="#000000" stroke-width="7.0"/>
</g>
<rect x="274.3" y="1959.7" width="1954.7" height="1585.8" fill="none" stroke="#000" stroke-width="5.0"/>
<line x1="274.3" y1="3469.0" x2="305.3" y2="3469.0" stroke="#000" stroke-width="5.0"/>
<line x1="274.3" y1="3318.1" x2="292.3" y2="3318.1" stroke="#000" stroke-width="5.0"/>
<line x1="274.3" y1="3167.2" x2="305.3" y2="3167.2" stroke="#000" stroke-width="5.0"/>
<line x1="274.3" y1="3016.3" x2="292.3" y2="3016.3" stroke="#000" stroke-width="5.0"/>
<line x1="274.3" y1="2865.4" x2="305.3" y2="2865.4" stroke="#000" stroke-width="5.0"/>
<line x1="274.3" y1="2714.5" x2="292.3" y2="2714.5" stroke="#000" stroke-width="5.0"/>
<line x1="274.3" y1="2563.6" x2="305.3" y2="2563.6" stroke="#000" stroke-width="5.0"/>
<line x1="274.3" y1="2412.7" x2="292.3" y2="2412.7" stroke="#000" stroke-width="5.0"/>
<line x1="274.3" y1="2261.8" x2="305.3" y2="2261.8" stroke="#000" stroke-width="5.0"/>
<line x1="274.3" y1="2110.9" x2="292.3" y2="2110.9" stroke="#000" stroke-width="5.0"/>
<line x1="274.3" y1="1960.0" x2="305.3" y2="1960.0" stroke="#000" stroke-width="5.0"/>
<line x1="369.6" y1="3545.5" x2="369.6" y2="3527.5" stroke="#000" stroke-width="5.0"/>
<line x1="453.9" y1="3545.5" x2="453.9" y2="3527.5" stroke="#000" stroke-width="5.0"/>
<line x1="528.2" y1="3545.5" x2="528.2" y2="3527.5" stroke="#000" stroke-width="5.0"/>
<line x1="1032.1" y1="3545.5" x2="1032.1" y2="3527.5" stroke="#000" stroke-width="5.0"/>
<line x1="1288.0" y1="3545.5" x2="1288.0" y2="3527.5" stroke="#000" stroke-width="5.0"/>
<line x1="1469.5" y1="3545.5" x2="1469.5" y2="3527.5" stroke="#000" stroke-width="5.0"/>
<line x1="1610.3" y1="3545.5" x2="1610.3" y2="3527.5" stroke="#000" stroke-width="5.0"/>
<line x1="1725.4" y1="3545.5" x2="1725.4" y2="3527.5" stroke="#000" stroke-width="5.0"/>
<line x1="1822.6" y1="3545.5" x2="1822.6" y2="3527.5" stroke="#000" stroke-width="5.0"/>
<line x1="1906.9" y1="3545.5" x2="1906.9" y2="3527.5" stroke="#000" stroke-width="5.0"/>
<line x1="1981.2" y1="3545.5" x2="1981.2" y2="3527.5" stroke="#000" stroke-width="5.0"/>
<line x1="2047.7" y1="3545.5" x2="2047.7" y2="3513.5" stroke="#000" stroke-width="5.0"/>
<line x1="594.7" y1="3545.5" x2="594.7" y2="3513.5" stroke="#000" stroke-width="5.0"/>
<text transform="translate(241.5,3493.2) scale(1,1.06)" font-size="87.1" text-anchor="end">0</text>
<text transform="translate(241.5,3191.4) scale(1,1.06)" font-size="87.1" text-anchor="end">2</text>
<text transform="translate(241.5,2889.6) scale(1,1.06)" font-size="87.1" text-anchor="end">4</text>
<text transform="translate(241.5,2587.8) scale(1,1.06)" font-size="87.1" text-anchor="end">6</text>
<text transform="translate(241.5,2286.0) scale(1,1.06)" font-size="87.1" text-anchor="end">8</text>
<text transform="translate(241.5,1984.2) scale(1,1.06)" font-size="87.1" text-anchor="end">10</text>
<text transform="translate(594.7,3646.5) scale(1,1.06)" font-size="87.1" text-anchor="middle">100</text>
<text transform="translate(2047.7,3646.5) scale(1,1.06)" font-size="87.1" text-anchor="middle">1000</text>
<rect x="2225" y="1957.2" width="9.5" height="1591.3" fill="#000"/>
<text transform="translate(786.0,3775) scale(1,1.06)" font-size="87.1">Sphere-plate distance (nm)</text>
<text transform="translate(105.5,3351) rotate(-90) scale(1,1.06)" font-size="87.2">Near-field conductance (nW/K)</text>
<text x="2096.5" y="2073.5" font-size="146">b</text>
<line x1="731.5" y1="2107" x2="930.5" y2="2107" stroke="#000000" stroke-width="7.0"/>
<text transform="translate(950.5,2136.5) scale(1,1.06)" font-size="87.0">Intrinsic</text>
<line x1="731.5" y1="2229" x2="930.5" y2="2229" stroke="#12bd3e" stroke-width="7.0"/>
<text transform="translate(950.5,2258.5) scale(1,1.06)" font-size="87.0">2.99<tspan font-size="74.8" dy="6.1">×</tspan><tspan dy="-6.1">10</tspan><tspan font-size="53.1" dy="-43.9">14</tspan><tspan dy="43.9">/cm</tspan><tspan font-size="53.1" dy="-43.9">3</tspan><tspan dy="43.9">, p type, boron</tspan></text>
<line x1="731.5" y1="2340.7" x2="930.5" y2="2340.7" stroke="#ff2530" stroke-width="7.0"/>
<text transform="translate(950.5,2370.2) scale(1,1.06)" font-size="87.0">3.09<tspan font-size="74.8" dy="6.1">×</tspan><tspan dy="-6.1">10</tspan><tspan font-size="53.1" dy="-43.9">19</tspan><tspan dy="43.9">/cm</tspan><tspan font-size="53.1" dy="-43.9">3</tspan><tspan dy="43.9">, p type, boron</tspan></text>
<line x1="731.5" y1="2468.5" x2="930.5" y2="2468.5" stroke="#2a52ac" stroke-width="7.0"/>
<text transform="translate(950.5,2498.0) scale(1,1.06)" font-size="87.0">1.27<tspan font-size="74.8" dy="6.1">×</tspan><tspan dy="-6.1">10</tspan><tspan font-size="53.1" dy="-43.9">19</tspan><tspan dy="43.9">/cm</tspan><tspan font-size="53.1" dy="-43.9">3</tspan><tspan dy="43.9">, n type, arsenic</tspan></text>
<line x1="731.5" y1="2593" x2="930.5" y2="2593" stroke="#009494" stroke-width="7.0"/>
<text transform="translate(950.5,2622.5) scale(1,1.06)" font-size="87.0">2.03<tspan font-size="74.8" dy="6.1">×</tspan><tspan dy="-6.1">10</tspan><tspan font-size="53.1" dy="-43.9">20</tspan><tspan dy="43.9">/cm</tspan><tspan font-size="53.1" dy="-43.9">3</tspan><tspan dy="43.9">, p type, boron</tspan></text>
<clipPath id="cb"><rect x="274.3" y="1959.7" width="1951.7" height="1585.8"/></clipPath>
<g fill="none" stroke-linejoin="miter" stroke-miterlimit="3" clip-path="url(#cb)">
<path d="M274.0,2566.7 L274.0,2566.7 L278.1,2570.8 L279.0,2574.6 L284.0,2585.5 L288.2,2593.0 L289.0,2593.4 L294.0,2600.1 L299.0,2606.3 L302.3,2611.2 L304.0,2614.4 L309.0,2620.8 L314.0,2629.1 L319.0,2632.9 L320.5,2637.5 L324.0,2640.7 L329.0,2640.2 L334.0,2642.8 L338.7,2643.5 L339.0,2643.7 L344.0,2648.3 L348.8,2653.6 L349.0,2654.6 L354.0,2664.2 L359.0,2672.1 L361.0,2675.9 L364.0,2676.3 L369.0,2678.4 L371.1,2677.9 L374.0,2680.5 L379.0,2685.9 L379.2,2688.0 L384.0,2692.2 L389.0,2694.5 L394.0,2696.7 L395.3,2700.1 L399.0,2702.4 L404.0,2707.3 L409.0,2710.8 L413.5,2716.3 L414.0,2714.7 L419.0,2719.8 L424.0,2724.0 L429.0,2725.7 L429.7,2726.4 L434.0,2725.9 L439.0,2727.8 L444.0,2728.8 L449.0,2728.0 L449.9,2728.4 L454.0,2730.3 L459.0,2732.4 L464.0,2732.2 L468.1,2733.7 L469.0,2734.3 L474.0,2744.4 L479.0,2753.0 L480.2,2754.7 L484.0,2758.8 L489.0,2759.2 L494.0,2763.5 L499.0,2766.8 L500.5,2768.9 L504.0,2772.0 L509.0,2781.9 L512.6,2787.1 L514.0,2787.0 L519.0,2782.9 L524.0,2783.1 L528.8,2779.0 L529.0,2780.7 L534.0,2792.7 L539.0,2804.6 L544.0,2817.6 L546.9,2823.4 L549.0,2822.1 L554.0,2825.7 L559.0,2826.6 L564.0,2824.6 L569.0,2828.3 L574.0,2828.5 L577.3,2829.5 L579.0,2830.1 L584.0,2827.2 L589.0,2826.5 L593.4,2825.5 L594.0,2826.6 L599.0,2830.5 L604.0,2837.9 L609.0,2842.5 L613.7,2847.7 L614.0,2848.5 L619.0,2849.0 L624.0,2853.0 L629.0,2854.3 L629.8,2853.8 L634.0,2858.4 L639.0,2865.3 L642.0,2867.9 L644.0,2869.0 L649.0,2868.5 L654.0,2862.8 L658.1,2863.9 L659.0,2866.1 L664.0,2871.4 L669.0,2876.5 L670.3,2878.0 L674.0,2884.0 L679.0,2896.5 L684.0,2902.8 L689.0,2914.8 L694.0,2925.3 L694.5,2924.5 L699.0,2913.4 L704.0,2905.1 L709.0,2893.8 L714.0,2885.8 L714.7,2884.1 L719.0,2894.0 L724.0,2903.8 L726.9,2906.3 L729.0,2904.4 L734.0,2906.8 L739.0,2908.3 L739.0,2909.4 L744.0,2926.5 L749.0,2940.9 L749.1,2940.6 L754.0,2940.0 L759.0,2941.8 L764.0,2941.9 L769.0,2942.1 L771.3,2942.6 L774.0,2944.3 L779.0,2950.8 L784.0,2955.7 L789.0,2960.2 L789.5,2960.8 L794.0,2954.3 L799.0,2946.0 L804.0,2940.2 L805.7,2938.5 L809.0,2947.4 L814.0,2956.4 L817.8,2964.8 L819.0,2961.5 L824.0,2959.1 L827.9,2952.7 L829.0,2956.0 L834.0,2969.7 L839.0,2978.7 L840.1,2981.0 L844.0,2968.4 L849.0,2952.2 L850.2,2950.7 L854.0,2953.6 L859.0,2956.7 L860.0,2951.6 L864.0,2948.8 L868.0,2948.7 L872.0,2945.4 L876.0,2950.8 L880.0,2954.6 L884.0,2966.0 L888.0,2978.6 L892.0,2981.3 L896.0,2982.0 L900.0,2977.0 L904.0,2985.9 L908.0,2987.7 L912.0,2992.7 L916.0,2993.5 L920.0,2985.3 L924.0,2989.7 L928.0,2992.2 L932.0,2996.9 L936.0,2991.3 L940.0,2985.8 L944.0,2987.9 L948.0,2994.5 L952.0,3002.4 L956.0,3008.5 L960.0,3011.5 L964.0,3017.7 L968.0,3021.6 L972.0,3024.4 L976.0,3024.9 L980.0,3024.4 L984.0,3033.0 L988.0,3037.7 L992.0,3037.6 L996.0,3030.7 L1000.0,3022.9 L1004.0,3023.9 L1008.0,3031.8 L1012.0,3029.9 L1016.0,3035.4 L1020.0,3040.1 L1024.0,3036.8 L1028.0,3043.8 L1032.0,3049.8 L1036.0,3057.4 L1040.0,3064.6 L1044.0,3066.0 L1048.0,3063.2 L1052.0,3056.4 L1056.0,3060.3 L1060.0,3062.8 L1064.0,3069.0 L1068.0,3069.0 L1072.0,3070.1 L1076.0,3069.0 L1080.0,3091.7 L1084.0,3117.7 L1088.0,3106.6 L1092.0,3090.9 L1096.0,3083.4 L1100.0,3084.5 L1104.0,3088.7 L1108.0,3089.8 L1112.0,3091.7 L1116.0,3084.2 L1120.0,3087.1 L1124.0,3081.3 L1128.0,3082.2 L1132.0,3084.4 L1136.0,3084.2 L1140.0,3087.2 L1144.0,3085.9 L1148.0,3085.6 L1152.0,3087.2 L1156.0,3093.6 L1160.0,3092.6 L1164.0,3096.2 L1168.0,3105.8 L1172.0,3107.9 L1176.0,3118.9 L1180.0,3113.3 L1184.0,3120.0 L1188.0,3116.2 L1192.0,3107.2 L1196.0,3110.0 L1200.0,3129.7 L1204.0,3143.4 L1208.0,3126.9 L1212.0,3114.2 L1216.0,3119.6 L1220.0,3127.5 L1224.0,3133.8 L1228.0,3139.2 L1232.0,3135.2 L1236.0,3139.6 L1240.0,3135.9 L1244.0,3133.7 L1248.0,3136.5 L1252.0,3147.5 L1256.0,3153.7 L1260.0,3158.0 L1264.0,3177.5 L1268.0,3191.6 L1272.0,3187.6 L1276.0,3181.3 L1280.0,3168.4 L1284.0,3170.2 L1288.0,3166.4 L1292.0,3166.6 L1296.0,3162.6 L1300.0,3157.7 L1304.0,3154.3 L1308.0,3163.8 L1312.0,3173.3 L1316.0,3176.4 L1320.0,3182.8 L1324.0,3182.1 L1328.0,3180.7 L1332.0,3190.2 L1336.0,3196.0 L1340.0,3198.8 L1344.0,3205.6 L1348.0,3207.8 L1352.0,3204.2 L1356.0,3202.6 L1360.0,3204.9 L1364.0,3200.2 L1368.0,3195.0 L1372.0,3199.2 L1376.0,3205.1 L1380.0,3203.7 L1384.0,3214.2 L1388.0,3224.8 L1392.0,3234.2 L1396.0,3233.5 L1400.0,3219.9 L1404.0,3212.7 L1408.0,3213.9 L1412.0,3215.6 L1416.0,3216.7 L1420.0,3223.3 L1424.0,3227.4 L1428.0,3227.7 L1432.0,3227.9 L1436.0,3226.6 L1440.0,3199.3 L1443.3,3212.0 L1446.6,3211.7 L1449.9,3206.9 L1453.2,3226.8 L1456.5,3227.2 L1459.8,3221.8 L1463.1,3240.3 L1466.4,3236.7 L1469.7,3225.6 L1473.0,3233.5 L1476.3,3240.2 L1479.6,3242.3 L1482.9,3236.5 L1486.2,3234.2 L1489.5,3237.5 L1492.8,3229.8 L1496.1,3244.9 L1499.4,3234.3 L1502.7,3236.7 L1506.0,3240.6 L1509.3,3223.7 L1512.6,3229.2 L1515.9,3256.5 L1519.2,3245.1 L1522.5,3240.5 L1525.8,3250.5 L1529.1,3243.8 L1532.4,3255.0 L1535.7,3246.3 L1539.0,3259.5 L1542.3,3240.5 L1545.6,3276.2 L1548.9,3256.5 L1552.2,3245.1 L1555.5,3260.9 L1558.8,3259.2 L1562.1,3265.2 L1565.4,3250.1 L1568.7,3268.0 L1572.0,3305.7 L1575.3,3248.4 L1578.6,3267.3 L1581.9,3259.6 L1585.2,3265.8 L1588.5,3242.9 L1591.8,3251.7 L1595.1,3272.3 L1598.4,3267.9 L1601.7,3289.0 L1605.0,3262.5 L1608.3,3274.1 L1611.6,3307.8 L1614.9,3265.2 L1618.2,3264.5 L1621.5,3275.5 L1624.8,3275.8 L1628.1,3286.7 L1631.4,3278.3 L1634.7,3268.1 L1638.0,3280.4 L1641.3,3310.6 L1644.6,3295.2 L1647.9,3247.5 L1651.2,3280.2 L1654.5,3271.9 L1657.8,3290.4 L1661.1,3281.1 L1664.4,3307.0 L1667.7,3295.5 L1671.0,3296.1 L1674.3,3288.9 L1677.6,3287.4 L1680.9,3293.3 L1684.2,3306.3 L1687.5,3298.1 L1690.8,3288.6 L1694.1,3310.2 L1697.4,3299.0 L1700.7,3298.1 L1704.0,3292.3 L1707.3,3298.3 L1710.6,3300.5 L1713.9,3276.2 L1717.2,3325.2 L1720.5,3320.7 L1723.8,3311.4 L1727.1,3327.1 L1730.4,3319.5 L1733.7,3318.4 L1737.0,3282.6 L1740.3,3310.6 L1743.6,3320.9 L1746.9,3335.8 L1750.2,3340.7 L1753.5,3337.6 L1756.8,3307.2 L1760.1,3296.4 L1763.4,3333.7 L1766.7,3329.1 L1770.0,3343.3 L1773.3,3331.8 L1776.6,3338.5 L1779.9,3318.5 L1783.2,3344.5 L1786.5,3333.5 L1789.8,3343.5 L1793.1,3345.1 L1796.4,3338.3 L1799.7,3344.6 L1803.0,3341.4 L1806.3,3352.4 L1809.6,3350.1 L1812.9,3337.6 L1816.2,3338.2 L1819.5,3369.7 L1822.8,3347.2 L1826.1,3362.5 L1829.4,3355.6 L1832.7,3343.8 L1836.0,3341.9 L1839.3,3353.9 L1842.6,3356.6 L1845.9,3362.3 L1849.2,3338.9 L1852.5,3348.8 L1855.8,3356.2 L1859.1,3379.1 L1862.4,3327.4 L1865.7,3364.6 L1869.0,3352.0 L1872.3,3365.1 L1875.6,3353.3 L1878.9,3365.0 L1882.2,3381.5 L1885.5,3366.2 L1888.8,3368.1 L1892.1,3368.2 L1895.4,3354.4 L1898.7,3372.9 L1902.0,3364.2 L1905.3,3357.7 L1908.6,3369.7 L1911.9,3368.9 L1915.2,3384.0 L1918.5,3375.3 L1921.8,3370.7 L1925.1,3399.4 L1928.4,3395.1 L1931.7,3400.9 L1935.0,3394.0 L1938.3,3386.2 L1941.6,3383.9 L1944.9,3387.7 L1948.2,3406.3 L1951.5,3396.9 L1954.8,3377.0 L1958.1,3398.6 L1961.4,3381.6 L1964.7,3405.0 L1968.0,3388.1 L1971.3,3389.1 L1974.6,3409.9 L1977.9,3409.0 L1981.2,3389.0 L1984.5,3424.0 L1987.8,3445.2 L1991.1,3396.4 L1994.4,3443.4 L1997.7,3410.1 L2001.0,3413.9 L2004.3,3419.3 L2007.6,3402.6 L2010.9,3441.5 L2014.2,3430.9 L2017.5,3414.0 L2020.8,3421.0 L2024.1,3403.9 L2027.4,3420.5 L2030.7,3438.7 L2034.0,3401.7 L2037.3,3419.9 L2040.6,3428.3 L2043.9,3441.2 L2047.2,3445.7 L2050.5,3420.4 L2053.8,3416.6 L2057.1,3433.7 L2060.4,3422.4 L2063.7,3423.4 L2067.0,3443.4 L2070.3,3452.5 L2073.6,3432.8 L2076.9,3427.0 L2080.2,3438.7 L2083.5,3404.5 L2086.8,3432.3 L2090.1,3418.6 L2093.4,3469.3 L2096.7,3446.9 L2100.0,3440.2 L2103.3,3437.1 L2106.6,3405.6 L2109.9,3453.8 L2113.2,3468.9 L2116.5,3436.7 L2119.8,3458.9 L2123.1,3461.1 L2126.4,3429.9 L2129.7,3467.4 L2133.0,3474.9 L2136.3,3459.9 L2139.6,3456.8 L2142.9,3470.4 L2146.2,3437.4 L2149.5,3462.2 L2152.8,3477.1 L2156.1,3444.2 L2159.4,3477.7 L2162.7,3457.6 L2166.0,3433.9 L2169.3,3463.5 L2172.6,3451.4 L2175.9,3471.2 L2179.2,3450.0 L2182.5,3483.7 L2185.8,3458.2 L2189.1,3475.5 L2192.4,3462.6 L2195.7,3467.8 L2199.0,3491.6 L2202.3,3478.5 L2205.6,3470.8 L2208.9,3459.5 L2212.2,3496.8 L2215.5,3491.7 L2218.8,3476.9 L2222.1,3486.4 L2225.4,3468.1 L2226.0,3468.5" stroke="#ff2530" stroke-width="7.0"/>
<path d="M274.0,2562.7 L274.0,2562.7 L279.0,2562.3 L284.0,2561.4 L286.2,2560.6 L289.0,2560.4 L294.0,2563.6 L299.0,2564.9 L302.3,2564.7 L304.0,2566.6 L309.0,2572.7 L310.4,2572.8 L314.0,2574.2 L319.0,2576.9 L322.6,2578.8 L324.0,2579.8 L329.0,2580.1 L332.7,2580.9 L334.0,2583.0 L339.0,2584.5 L344.0,2592.2 L344.8,2591.0 L349.0,2595.0 L354.0,2601.9 L354.9,2603.1 L359.0,2608.2 L364.0,2619.1 L367.0,2623.3 L369.0,2625.8 L374.0,2627.7 L379.0,2629.5 L381.2,2629.4 L384.0,2627.4 L389.0,2628.4 L394.0,2628.8 L395.3,2629.4 L399.0,2629.2 L404.0,2633.3 L409.0,2633.5 L409.5,2633.4 L414.0,2636.2 L419.0,2640.0 L424.0,2641.3 L425.7,2643.5 L429.0,2647.8 L434.0,2655.8 L435.8,2659.7 L439.0,2662.5 L444.0,2665.7 L447.9,2667.8 L449.0,2669.6 L454.0,2674.7 L459.0,2675.9 L464.0,2681.4 L466.1,2684.0 L469.0,2683.6 L474.0,2680.6 L476.2,2681.9 L479.0,2682.2 L484.0,2685.9 L489.0,2687.7 L494.0,2689.3 L499.0,2689.6 L500.5,2690.0 L504.0,2692.9 L509.0,2698.9 L514.0,2701.4 L516.6,2704.2 L519.0,2708.8 L524.0,2718.9 L524.7,2718.3 L529.0,2722.2 L534.0,2726.9 L539.0,2732.6 L540.9,2734.5 L544.0,2738.0 L549.0,2742.3 L554.0,2746.2 L557.1,2748.6 L559.0,2749.2 L564.0,2745.9 L569.0,2746.4 L574.0,2747.3 L579.0,2745.4 L579.3,2746.6 L584.0,2751.4 L589.0,2758.4 L594.0,2765.5 L599.0,2773.3 L601.5,2776.9 L604.0,2774.9 L609.0,2775.2 L614.0,2775.7 L619.0,2772.0 L623.8,2770.9 L624.0,2773.3 L629.0,2786.3 L634.0,2798.8 L637.9,2811.3 L639.0,2811.0 L644.0,2810.0 L649.0,2812.3 L654.0,2809.8 L659.0,2813.0 L662.2,2811.3 L664.0,2813.9 L669.0,2815.6 L674.0,2824.2 L674.3,2823.4 L679.0,2828.4 L684.0,2828.5 L689.0,2833.9 L690.5,2833.5 L694.0,2835.3 L699.0,2843.7 L704.0,2846.9 L704.6,2849.7 L709.0,2848.6 L714.0,2843.6 L714.7,2845.7 L719.0,2846.6 L724.0,2855.5 L729.0,2863.0 L734.0,2864.2 L739.0,2871.1 L741.0,2872.0 L744.0,2868.1 L749.0,2860.8 L753.1,2855.8 L754.0,2858.1 L759.0,2867.8 L764.0,2872.4 L765.3,2876.0 L769.0,2873.7 L774.0,2869.4 L775.4,2867.9 L779.0,2866.4 L784.0,2870.9 L789.0,2871.8 L794.0,2868.5 L795.6,2869.9 L799.0,2879.5 L804.0,2888.0 L809.0,2898.3 L811.8,2904.3 L814.0,2905.7 L819.0,2902.8 L824.0,2901.6 L827.9,2900.3 L829.0,2903.5 L834.0,2909.1 L839.0,2914.4 L840.1,2914.4 L844.0,2913.3 L849.0,2913.9 L852.2,2916.4 L854.0,2917.1 L859.0,2912.4 L860.0,2913.6 L864.0,2907.2 L868.0,2906.1 L872.0,2900.0 L876.0,2915.5 L880.0,2917.4 L884.0,2928.2 L888.0,2932.7 L892.0,2935.6 L896.0,2928.5 L900.0,2931.4 L904.0,2933.6 L908.0,2938.4 L912.0,2938.6 L916.0,2936.3 L920.0,2938.1 L924.0,2936.5 L928.0,2938.6 L932.0,2940.9 L936.0,2951.6 L940.0,2965.1 L944.0,2971.7 L948.0,2965.4 L952.0,2951.4 L956.0,2957.4 L960.0,2964.3 L964.0,2952.1 L968.0,2947.0 L972.0,2942.4 L976.0,2951.6 L980.0,2970.0 L984.0,2966.7 L988.0,2965.6 L992.0,2958.9 L996.0,2950.2 L1000.0,2950.1 L1004.0,2976.1 L1008.0,2991.6 L1012.0,2998.1 L1016.0,3009.4 L1020.0,3008.1 L1024.0,3016.7 L1028.0,3016.7 L1032.0,3010.3 L1036.0,3008.7 L1040.0,3012.7 L1044.0,3013.7 L1048.0,3030.6 L1052.0,3037.4 L1056.0,3042.6 L1060.0,3040.8 L1064.0,3039.5 L1068.0,3040.1 L1072.0,3047.0 L1076.0,3045.6 L1080.0,3058.4 L1084.0,3073.3 L1088.0,3091.2 L1092.0,3080.8 L1096.0,3080.2 L1100.0,3073.0 L1104.0,3079.0 L1108.0,3093.3 L1112.0,3102.0 L1116.0,3098.0 L1120.0,3081.6 L1124.0,3069.2 L1128.0,3057.4 L1132.0,3059.4 L1136.0,3065.3 L1140.0,3063.5 L1144.0,3071.6 L1148.0,3083.3 L1152.0,3090.3 L1156.0,3089.9 L1160.0,3087.4 L1164.0,3083.6 L1168.0,3092.8 L1172.0,3106.6 L1176.0,3108.5 L1180.0,3108.1 L1184.0,3114.9 L1188.0,3110.9 L1192.0,3110.7 L1196.0,3118.6 L1200.0,3118.1 L1204.0,3121.9 L1208.0,3119.9 L1212.0,3114.8 L1216.0,3109.2 L1220.0,3111.2 L1224.0,3117.1 L1228.0,3127.5 L1232.0,3122.9 L1236.0,3118.0 L1240.0,3119.2 L1244.0,3110.4 L1248.0,3116.4 L1252.0,3116.8 L1256.0,3114.0 L1260.0,3111.7 L1264.0,3112.7 L1268.0,3109.3 L1272.0,3106.0 L1276.0,3098.6 L1280.0,3096.1 L1284.0,3091.2 L1288.0,3096.0 L1292.0,3115.6 L1296.0,3125.8 L1300.0,3120.2 L1304.0,3113.8 L1308.0,3137.1 L1312.0,3158.2 L1316.0,3174.6 L1320.0,3180.8 L1324.0,3175.7 L1328.0,3171.1 L1332.0,3165.8 L1336.0,3167.4 L1340.0,3180.2 L1344.0,3157.5 L1348.0,3137.5 L1352.0,3140.9 L1356.0,3144.6 L1360.0,3152.3 L1364.0,3156.4 L1368.0,3159.4 L1372.0,3163.0 L1376.0,3160.2 L1380.0,3159.7 L1384.0,3155.7 L1388.0,3155.3 L1392.0,3153.2 L1396.0,3156.8 L1400.0,3164.4 L1404.0,3165.5 L1408.0,3176.5 L1412.0,3172.9 L1416.0,3175.6 L1420.0,3182.4 L1424.0,3181.6 L1428.0,3187.6 L1432.0,3197.1 L1436.0,3194.5 L1440.0,3187.0 L1443.3,3190.7 L1446.6,3176.2 L1449.9,3188.6 L1453.2,3170.2 L1456.5,3170.3 L1459.8,3177.5 L1463.1,3172.5 L1466.4,3179.8 L1469.7,3171.0 L1473.0,3170.4 L1476.3,3164.2 L1479.6,3170.2 L1482.9,3170.3 L1486.2,3167.1 L1489.5,3185.9 L1492.8,3178.0 L1496.1,3166.8 L1499.4,3219.0 L1502.7,3183.8 L1506.0,3181.8 L1509.3,3213.3 L1512.6,3216.3 L1515.9,3194.0 L1519.2,3193.9 L1522.5,3202.3 L1525.8,3228.9 L1529.1,3214.2 L1532.4,3210.0 L1535.7,3220.2 L1539.0,3235.4 L1542.3,3206.4 L1545.6,3219.1 L1548.9,3208.6 L1552.2,3251.0 L1555.5,3248.3 L1558.8,3239.7 L1562.1,3228.5 L1565.4,3239.3 L1568.7,3208.8 L1572.0,3238.2 L1575.3,3221.0 L1578.6,3222.6 L1581.9,3231.2 L1585.2,3236.3 L1588.5,3248.2 L1591.8,3250.8 L1595.1,3246.9 L1598.4,3234.0 L1601.7,3254.5 L1605.0,3246.4 L1608.3,3263.2 L1611.6,3239.9 L1614.9,3219.9 L1618.2,3249.2 L1621.5,3282.9 L1624.8,3265.4 L1628.1,3259.9 L1631.4,3275.1 L1634.7,3272.1 L1638.0,3272.4 L1641.3,3260.6 L1644.6,3267.0 L1647.9,3267.8 L1651.2,3257.2 L1654.5,3251.1 L1657.8,3266.2 L1661.1,3276.3 L1664.4,3272.7 L1667.7,3270.8 L1671.0,3270.4 L1674.3,3295.1 L1677.6,3266.3 L1680.9,3275.7 L1684.2,3286.9 L1687.5,3263.6 L1690.8,3266.3 L1694.1,3276.2 L1697.4,3284.5 L1700.7,3268.0 L1704.0,3269.2 L1707.3,3266.8 L1710.6,3252.0 L1713.9,3282.5 L1717.2,3267.6 L1720.5,3251.8 L1723.8,3274.1 L1727.1,3256.8 L1730.4,3267.6 L1733.7,3281.6 L1737.0,3270.4 L1740.3,3294.8 L1743.6,3261.2 L1746.9,3280.5 L1750.2,3282.4 L1753.5,3292.5 L1756.8,3285.2 L1760.1,3276.4 L1763.4,3274.7 L1766.7,3273.6 L1770.0,3289.9 L1773.3,3268.8 L1776.6,3285.5 L1779.9,3279.8 L1783.2,3286.8 L1786.5,3283.3 L1789.8,3316.2 L1793.1,3281.7 L1796.4,3293.9 L1799.7,3294.6 L1803.0,3299.4 L1806.3,3297.9 L1809.6,3298.2 L1812.9,3306.1 L1816.2,3275.1 L1819.5,3296.5 L1822.8,3282.7 L1826.1,3304.2 L1829.4,3288.4 L1832.7,3294.1 L1836.0,3308.4 L1839.3,3329.6 L1842.6,3320.7 L1845.9,3318.5 L1849.2,3333.8 L1852.5,3303.6 L1855.8,3288.5 L1859.1,3309.8 L1862.4,3310.7 L1865.7,3329.7 L1869.0,3340.9 L1872.3,3294.7 L1875.6,3344.8 L1878.9,3332.8 L1882.2,3323.5 L1885.5,3317.8 L1888.8,3345.9 L1892.1,3315.7 L1895.4,3309.5 L1898.7,3319.1 L1902.0,3300.7 L1905.3,3326.9 L1908.6,3320.7 L1911.9,3327.9 L1915.2,3329.5 L1918.5,3311.5 L1921.8,3344.3 L1925.1,3313.7 L1928.4,3339.9 L1931.7,3306.8 L1935.0,3333.6 L1938.3,3317.5 L1941.6,3329.1 L1944.9,3319.6 L1948.2,3298.6 L1951.5,3312.9 L1954.8,3328.9 L1958.1,3336.3 L1961.4,3307.7 L1964.7,3298.9 L1968.0,3316.3 L1971.3,3325.7 L1974.6,3320.5 L1977.9,3318.7 L1981.2,3342.4 L1984.5,3344.9 L1987.8,3342.9 L1991.1,3321.0 L1994.4,3336.3 L1997.7,3334.1 L2001.0,3318.5 L2004.3,3352.0 L2007.6,3342.4 L2010.9,3335.9 L2014.2,3363.9 L2017.5,3356.2 L2020.8,3358.9 L2024.1,3365.0 L2027.4,3359.6 L2030.7,3333.1 L2034.0,3346.5 L2037.3,3367.2 L2040.6,3343.5 L2043.9,3355.9 L2047.2,3362.0 L2050.5,3377.7 L2053.8,3376.7 L2057.1,3372.1 L2060.4,3357.7 L2063.7,3374.3 L2067.0,3369.8 L2070.3,3361.1 L2073.6,3383.7 L2076.9,3372.6 L2080.2,3355.8 L2083.5,3385.8 L2086.8,3365.3 L2090.1,3378.6 L2093.4,3349.5 L2096.7,3372.3 L2100.0,3360.3 L2103.3,3361.2 L2106.6,3349.0 L2109.9,3408.7 L2113.2,3376.9 L2116.5,3383.9 L2119.8,3397.8 L2123.1,3381.3 L2126.4,3391.7 L2129.7,3365.8 L2133.0,3389.6 L2136.3,3381.9 L2139.6,3396.3 L2142.9,3392.8 L2146.2,3371.0 L2149.5,3365.3 L2152.8,3378.5 L2156.1,3405.2 L2159.4,3401.6 L2162.7,3402.3 L2166.0,3367.7 L2169.3,3358.8 L2172.6,3390.1 L2175.9,3395.4 L2179.2,3392.4 L2182.5,3407.5 L2185.8,3400.7 L2189.1,3386.6 L2192.4,3392.1 L2195.7,3408.2 L2199.0,3408.1 L2202.3,3406.9 L2205.6,3442.7 L2208.9,3406.0 L2212.2,3412.6 L2215.5,3396.7 L2218.8,3407.0 L2222.1,3420.9 L2225.4,3422.1 L2226.0,3411.4" stroke="#2a52ac" stroke-width="7.0"/>
<path d="M274.0,2746.5 L274.0,2746.5 L279.0,2743.7 L284.0,2738.3 L288.2,2738.4 L289.0,2735.6 L294.0,2751.2 L299.0,2757.6 L304.0,2764.8 L306.4,2768.7 L309.0,2764.6 L314.0,2761.6 L319.0,2761.5 L320.5,2758.6 L324.0,2758.9 L329.0,2767.7 L334.0,2774.8 L338.7,2778.8 L339.0,2779.0 L344.0,2779.8 L349.0,2778.7 L354.0,2781.9 L354.9,2778.8 L359.0,2781.6 L364.0,2786.2 L369.0,2793.3 L371.1,2795.0 L374.0,2796.9 L379.0,2794.9 L384.0,2796.4 L389.0,2794.3 L394.0,2793.5 L395.3,2795.0 L399.0,2794.2 L404.0,2790.8 L409.0,2787.2 L409.5,2784.9 L414.0,2786.3 L419.0,2787.5 L423.6,2791.0 L424.0,2789.9 L429.0,2796.8 L434.0,2803.4 L439.0,2809.0 L439.8,2809.2 L444.0,2816.7 L449.0,2830.0 L454.0,2840.9 L459.0,2852.2 L464.0,2863.2 L466.1,2867.8 L469.0,2866.9 L474.0,2867.0 L479.0,2865.4 L484.0,2864.5 L489.0,2862.3 L494.0,2862.7 L496.4,2861.7 L499.0,2860.5 L504.0,2855.9 L509.0,2857.3 L514.0,2854.3 L516.6,2853.6 L519.0,2857.3 L524.0,2860.8 L529.0,2865.9 L532.8,2869.8 L534.0,2871.2 L539.0,2875.1 L544.0,2878.9 L546.9,2881.9 L549.0,2876.7 L554.0,2874.4 L557.1,2867.8 L559.0,2868.6 L564.0,2877.3 L569.0,2885.8 L571.2,2888.0 L574.0,2884.9 L579.0,2878.9 L579.3,2877.9 L584.0,2881.5 L589.0,2884.8 L594.0,2886.2 L599.0,2892.3 L604.0,2889.9 L605.6,2892.0 L609.0,2889.9 L614.0,2885.5 L619.0,2881.7 L619.7,2881.9 L624.0,2892.0 L627.8,2900.1 L629.0,2901.0 L634.0,2893.9 L639.0,2889.6 L642.0,2888.0 L644.0,2890.2 L649.0,2893.1 L654.0,2898.1 L658.1,2898.1 L659.0,2899.3 L664.0,2897.4 L669.0,2895.9 L670.3,2896.1 L674.0,2903.0 L678.3,2910.2 L679.0,2910.1 L684.0,2909.3 L689.0,2911.8 L692.5,2912.3 L694.0,2915.0 L699.0,2924.5 L704.0,2933.7 L709.0,2946.0 L714.0,2954.3 L714.7,2954.7 L719.0,2949.8 L724.0,2940.6 L728.9,2934.5 L729.0,2933.4 L734.0,2941.0 L739.0,2948.4 L741.0,2950.7 L744.0,2947.9 L749.0,2944.2 L754.0,2941.9 L759.0,2937.2 L764.0,2931.7 L767.3,2930.5 L769.0,2932.8 L774.0,2940.9 L779.0,2950.3 L779.4,2950.7 L784.0,2958.9 L789.0,2970.6 L794.0,2982.3 L799.0,2991.9 L799.6,2993.1 L804.0,2985.9 L809.0,2979.4 L814.0,2973.5 L815.8,2970.9 L819.0,2971.5 L824.0,2972.0 L827.9,2970.9 L829.0,2973.5 L834.0,2984.4 L839.0,3000.5 L840.1,3001.2 L844.0,3004.1 L849.0,3007.3 L854.0,3010.3 L856.2,3011.3 L859.0,3009.2 L860.0,3009.4 L864.0,3015.7 L868.0,3022.4 L872.0,3023.2 L876.0,3016.7 L880.0,3025.4 L884.0,3028.3 L888.0,3032.1 L892.0,3032.1 L896.0,3036.7 L900.0,3034.0 L904.0,3033.8 L908.0,3032.8 L912.0,3027.0 L916.0,3032.6 L920.0,3031.9 L924.0,3029.1 L928.0,3030.9 L932.0,3027.5 L936.0,3023.3 L940.0,3024.4 L944.0,3024.3 L948.0,3025.8 L952.0,3024.5 L956.0,3027.2 L960.0,3021.3 L964.0,3025.6 L968.0,3024.0 L972.0,3029.5 L976.0,3034.5 L980.0,3035.8 L984.0,3032.2 L988.0,3026.6 L992.0,3029.6 L996.0,3024.9 L1000.0,3031.9 L1004.0,3027.9 L1008.0,3032.5 L1012.0,3036.8 L1016.0,3037.5 L1020.0,3043.3 L1024.0,3047.8 L1028.0,3046.2 L1032.0,3049.7 L1036.0,3047.7 L1040.0,3042.4 L1044.0,3047.7 L1048.0,3049.2 L1052.0,3057.5 L1056.0,3055.0 L1060.0,3063.0 L1064.0,3057.4 L1068.0,3063.6 L1072.0,3060.1 L1076.0,3059.9 L1080.0,3060.8 L1084.0,3064.7 L1088.0,3069.9 L1092.0,3074.7 L1096.0,3073.5 L1100.0,3072.8 L1104.0,3070.4 L1108.0,3077.2 L1112.0,3081.5 L1116.0,3082.6 L1120.0,3083.9 L1124.0,3084.6 L1128.0,3085.2 L1132.0,3087.4 L1136.0,3091.1 L1140.0,3089.7 L1144.0,3099.2 L1148.0,3094.8 L1152.0,3099.0 L1156.0,3098.8 L1160.0,3101.1 L1164.0,3103.4 L1168.0,3107.1 L1172.0,3113.4 L1176.0,3109.4 L1180.0,3113.5 L1184.0,3102.1 L1188.0,3100.9 L1192.0,3100.6 L1196.0,3098.7 L1200.0,3098.1 L1204.0,3108.8 L1208.0,3115.3 L1212.0,3115.7 L1216.0,3121.0 L1220.0,3119.5 L1224.0,3123.9 L1228.0,3126.4 L1232.0,3130.2 L1236.0,3133.6 L1240.0,3134.3 L1244.0,3141.7 L1248.0,3137.8 L1252.0,3139.1 L1256.0,3139.4 L1260.0,3145.3 L1264.0,3151.9 L1268.0,3156.4 L1272.0,3151.0 L1276.0,3150.6 L1280.0,3149.1 L1284.0,3153.8 L1288.0,3151.3 L1292.0,3146.1 L1296.0,3157.0 L1300.0,3164.3 L1304.0,3167.6 L1308.0,3161.5 L1312.0,3162.0 L1316.0,3161.9 L1320.0,3160.5 L1324.0,3152.7 L1328.0,3144.3 L1332.0,3150.2 L1336.0,3153.3 L1340.0,3152.0 L1344.0,3157.9 L1348.0,3164.7 L1352.0,3170.1 L1356.0,3177.4 L1360.0,3184.0 L1364.0,3186.3 L1368.0,3186.0 L1372.0,3184.2 L1376.0,3190.9 L1380.0,3194.9 L1384.0,3198.3 L1388.0,3198.1 L1392.0,3204.8 L1396.0,3215.1 L1400.0,3211.9 L1404.0,3198.5 L1408.0,3188.7 L1412.0,3183.4 L1416.0,3192.7 L1420.0,3195.2 L1424.0,3202.9 L1428.0,3208.9 L1432.0,3214.1 L1436.0,3215.7 L1440.0,3223.5 L1443.3,3228.1 L1446.6,3227.2 L1449.9,3226.4 L1453.2,3230.2 L1456.5,3231.2 L1459.8,3228.7 L1463.1,3217.5 L1466.4,3218.7 L1469.7,3214.3 L1473.0,3209.0 L1476.3,3203.5 L1479.6,3212.3 L1482.9,3208.1 L1486.2,3227.9 L1489.5,3213.9 L1492.8,3213.4 L1496.1,3212.0 L1499.4,3228.0 L1502.7,3206.7 L1506.0,3211.3 L1509.3,3205.4 L1512.6,3208.6 L1515.9,3207.4 L1519.2,3213.9 L1522.5,3193.4 L1525.8,3201.8 L1529.1,3212.0 L1532.4,3194.5 L1535.7,3196.0 L1539.0,3190.4 L1542.3,3177.7 L1545.6,3197.3 L1548.9,3208.0 L1552.2,3196.7 L1555.5,3187.5 L1558.8,3205.0 L1562.1,3205.4 L1565.4,3214.7 L1568.7,3216.7 L1572.0,3210.7 L1575.3,3218.9 L1578.6,3204.7 L1581.9,3229.0 L1585.2,3223.0 L1588.5,3230.5 L1591.8,3230.5 L1595.1,3219.8 L1598.4,3220.3 L1601.7,3213.6 L1605.0,3202.7 L1608.3,3216.0 L1611.6,3216.1 L1614.9,3203.9 L1618.2,3216.0 L1621.5,3209.7 L1624.8,3211.9 L1628.1,3202.2 L1631.4,3194.7 L1634.7,3215.9 L1638.0,3215.9 L1641.3,3212.0 L1644.6,3211.8 L1647.9,3215.3 L1651.2,3219.3 L1654.5,3219.7 L1657.8,3211.4 L1661.1,3238.6 L1664.4,3224.9 L1667.7,3239.0 L1671.0,3243.3 L1674.3,3251.6 L1677.6,3239.2 L1680.9,3264.8 L1684.2,3262.6 L1687.5,3266.0 L1690.8,3272.3 L1694.1,3257.0 L1697.4,3239.1 L1700.7,3269.0 L1704.0,3278.0 L1707.3,3277.5 L1710.6,3263.9 L1713.9,3268.1 L1717.2,3271.8 L1720.5,3254.5 L1723.8,3264.1 L1727.1,3263.8 L1730.4,3281.6 L1733.7,3261.0 L1737.0,3277.9 L1740.3,3262.4 L1743.6,3245.7 L1746.9,3277.1 L1750.2,3248.6 L1753.5,3261.8 L1756.8,3271.4 L1760.1,3252.8 L1763.4,3247.9 L1766.7,3269.0 L1770.0,3262.4 L1773.3,3252.9 L1776.6,3255.9 L1779.9,3263.3 L1783.2,3275.8 L1786.5,3265.1 L1789.8,3273.3 L1793.1,3281.8 L1796.4,3278.1 L1799.7,3279.2 L1803.0,3277.1 L1806.3,3251.5 L1809.6,3276.1 L1812.9,3267.9 L1816.2,3264.0 L1819.5,3256.0 L1822.8,3253.0 L1826.1,3259.1 L1829.4,3271.0 L1832.7,3262.6 L1836.0,3267.9 L1839.3,3271.9 L1842.6,3285.6 L1845.9,3279.1 L1849.2,3282.8 L1852.5,3298.7 L1855.8,3286.2 L1859.1,3297.1 L1862.4,3284.0 L1865.7,3298.7 L1869.0,3298.7 L1872.3,3301.2 L1875.6,3297.3 L1878.9,3294.1 L1882.2,3302.8 L1885.5,3303.2 L1888.8,3319.1 L1892.1,3320.0 L1895.4,3302.3 L1898.7,3321.3 L1902.0,3313.0 L1905.3,3323.7 L1908.6,3316.9 L1911.9,3309.6 L1915.2,3334.9 L1918.5,3331.6 L1921.8,3317.7 L1925.1,3313.4 L1928.4,3328.2 L1931.7,3324.0 L1935.0,3333.8 L1938.3,3345.1 L1941.6,3355.2 L1944.9,3339.8 L1948.2,3358.4 L1951.5,3358.3 L1954.8,3345.0 L1958.1,3335.0 L1961.4,3361.2 L1964.7,3360.8 L1968.0,3379.5 L1971.3,3372.3 L1974.6,3367.7 L1977.9,3378.2 L1981.2,3353.2 L1984.5,3366.8 L1987.8,3363.7 L1991.1,3384.9 L1994.4,3374.8 L1997.7,3340.4 L2001.0,3385.4 L2004.3,3364.2 L2007.6,3382.2 L2010.9,3371.1 L2014.2,3379.6 L2017.5,3384.8 L2020.8,3381.8 L2024.1,3371.6 L2027.4,3396.5 L2030.7,3387.8 L2034.0,3385.0 L2037.3,3393.6 L2040.6,3382.5 L2043.9,3408.3 L2047.2,3393.1 L2050.5,3396.0 L2053.8,3397.5 L2057.1,3386.4 L2060.4,3385.5 L2063.7,3401.5 L2067.0,3404.8 L2070.3,3416.9 L2073.6,3409.8 L2076.9,3396.1 L2080.2,3414.7 L2083.5,3420.0 L2086.8,3423.9 L2090.1,3419.1 L2093.4,3405.2 L2096.7,3431.9 L2100.0,3414.4 L2103.3,3430.1 L2106.6,3409.9 L2109.9,3436.2 L2113.2,3422.0 L2116.5,3443.4 L2119.8,3452.4 L2123.1,3448.0 L2126.4,3425.1 L2129.7,3429.1 L2133.0,3431.4 L2136.3,3449.1 L2139.6,3447.2 L2142.9,3446.6 L2146.2,3449.5 L2149.5,3453.7 L2152.8,3455.8 L2156.1,3468.2 L2159.4,3450.9 L2162.7,3454.9 L2166.0,3434.1 L2169.3,3441.0 L2172.6,3448.9 L2175.9,3444.7 L2179.2,3460.8 L2182.5,3470.7 L2185.8,3455.7 L2189.1,3456.1 L2192.4,3456.6 L2195.7,3464.4 L2199.0,3457.9 L2202.3,3469.2 L2205.6,3468.6 L2208.9,3469.8 L2212.2,3475.0 L2215.5,3467.6 L2218.8,3469.3 L2222.1,3487.5 L2225.4,3468.0 L2226.0,3477.4" stroke="#12bd3e" stroke-width="7.0"/>
<path d="M274.0,3203.1 L274.0,3203.1 L279.0,3203.4 L284.0,3204.3 L289.0,3204.7 L290.2,3205.9 L294.0,3205.9 L299.0,3205.1 L304.0,3205.4 L306.4,3205.9 L309.0,3210.3 L314.0,3213.7 L316.5,3216.4 L319.0,3216.0 L324.0,3211.0 L329.0,3208.0 L334.0,3202.3 L336.7,3201.1 L339.0,3201.6 L344.0,3205.6 L349.0,3203.9 L354.0,3204.9 L358.9,3204.3 L359.0,3204.7 L364.0,3211.7 L369.0,3215.2 L371.1,3219.3 L374.0,3220.7 L379.0,3226.6 L384.0,3231.3 L389.0,3233.9 L394.0,3238.5 L397.4,3241.5 L399.0,3239.7 L404.0,3235.9 L409.0,3230.6 L414.0,3226.3 L419.0,3224.0 L424.0,3217.9 L427.7,3217.2 L429.0,3216.0 L434.0,3216.4 L439.0,3215.9 L439.8,3217.2 L444.0,3219.4 L449.0,3220.6 L454.0,3223.3 L454.0,3223.2 L459.0,3223.9 L464.0,3226.1 L469.0,3229.6 L470.1,3229.4 L474.0,3228.6 L479.0,3226.0 L484.0,3225.5 L489.0,3223.8 L494.0,3222.2 L496.4,3221.3 L499.0,3224.2 L504.0,3223.3 L508.5,3225.3 L509.0,3226.2 L514.0,3230.2 L518.6,3233.4 L519.0,3233.2 L524.0,3233.7 L529.0,3237.7 L534.0,3238.9 L536.8,3239.5 L539.0,3239.5 L544.0,3239.5 L549.0,3239.5 L553.0,3239.5 L554.0,3240.4 L559.0,3252.3 L564.0,3260.0 L569.0,3272.7 L569.2,3273.0 L574.0,3265.2 L579.0,3260.7 L584.0,3256.1 L585.4,3253.6 L589.0,3250.5 L594.0,3246.4 L599.0,3244.0 L601.5,3241.5 L604.0,3244.4 L609.0,3250.7 L614.0,3257.2 L619.0,3266.2 L621.7,3267.8 L624.0,3266.0 L629.0,3260.0 L634.0,3252.1 L635.9,3251.6 L639.0,3251.9 L644.0,3248.7 L649.0,3250.3 L650.0,3249.6 L654.0,3246.1 L659.0,3247.6 L662.2,3243.5 L664.0,3242.4 L669.0,3249.3 L674.0,3251.9 L678.3,3253.6 L679.0,3251.9 L684.0,3258.3 L689.0,3264.9 L694.0,3269.0 L696.5,3269.8 L699.0,3265.3 L704.0,3262.2 L709.0,3256.8 L714.0,3252.5 L718.8,3249.6 L719.0,3248.9 L724.0,3256.6 L729.0,3258.9 L734.0,3263.0 L739.0,3267.8 L739.0,3267.3 L744.0,3270.5 L749.0,3272.4 L754.0,3272.2 L755.2,3273.8 L759.0,3271.8 L763.2,3265.8 L764.0,3264.7 L769.0,3268.2 L774.0,3271.5 L779.0,3275.6 L781.4,3274.7 L784.0,3273.2 L789.0,3272.4 L794.0,3272.0 L799.0,3269.4 L804.0,3268.4 L807.7,3265.8 L809.0,3266.8 L814.0,3264.8 L819.0,3264.2 L824.0,3263.6 L827.9,3261.7 L829.0,3263.2 L834.0,3272.3 L836.0,3273.0 L839.0,3271.5 L844.0,3274.8 L849.0,3279.8 L854.0,3280.3 L854.2,3279.9 L859.0,3266.4 L860.0,3265.6 L864.0,3267.4 L868.0,3263.3 L872.0,3266.6 L876.0,3264.4 L880.0,3265.6 L884.0,3267.1 L888.0,3271.4 L892.0,3270.5 L896.0,3277.4 L900.0,3279.3 L904.0,3273.2 L908.0,3271.0 L912.0,3285.2 L916.0,3294.2 L920.0,3296.2 L924.0,3283.9 L928.0,3272.3 L932.0,3282.0 L936.0,3272.3 L940.0,3273.7 L944.0,3269.2 L948.0,3269.3 L952.0,3271.6 L956.0,3265.4 L960.0,3265.7 L964.0,3262.3 L968.0,3267.4 L972.0,3257.4 L976.0,3245.8 L980.0,3249.2 L984.0,3247.6 L988.0,3251.2 L992.0,3251.2 L996.0,3252.7 L1000.0,3256.0 L1004.0,3258.4 L1008.0,3257.7 L1012.0,3261.8 L1016.0,3257.1 L1020.0,3263.9 L1024.0,3273.3 L1028.0,3280.8 L1032.0,3289.1 L1036.0,3298.3 L1040.0,3295.3 L1044.0,3298.8 L1048.0,3293.0 L1052.0,3286.7 L1056.0,3278.4 L1060.0,3270.4 L1064.0,3262.8 L1068.0,3258.1 L1072.0,3260.8 L1076.0,3264.7 L1080.0,3268.0 L1084.0,3272.3 L1088.0,3286.6 L1092.0,3292.3 L1096.0,3287.0 L1100.0,3277.8 L1104.0,3280.2 L1108.0,3283.0 L1112.0,3289.5 L1116.0,3296.1 L1120.0,3298.8 L1124.0,3293.1 L1128.0,3297.4 L1132.0,3291.3 L1136.0,3284.8 L1140.0,3285.2 L1144.0,3287.4 L1148.0,3278.8 L1152.0,3278.4 L1156.0,3283.6 L1160.0,3287.7 L1164.0,3295.0 L1168.0,3298.9 L1172.0,3304.2 L1176.0,3308.5 L1180.0,3313.9 L1184.0,3315.0 L1188.0,3308.0 L1192.0,3313.2 L1196.0,3329.5 L1200.0,3322.5 L1204.0,3309.3 L1208.0,3301.3 L1212.0,3306.2 L1216.0,3305.0 L1220.0,3311.4 L1224.0,3309.9 L1228.0,3315.5 L1232.0,3319.1 L1236.0,3322.4 L1240.0,3327.6 L1244.0,3334.0 L1248.0,3331.3 L1252.0,3312.5 L1256.0,3314.0 L1260.0,3310.8 L1264.0,3307.0 L1268.0,3308.0 L1272.0,3292.1 L1276.0,3280.1 L1280.0,3290.2 L1284.0,3291.4 L1288.0,3306.4 L1292.0,3301.3 L1296.0,3289.8 L1300.0,3312.4 L1304.0,3335.9 L1308.0,3329.8 L1312.0,3323.1 L1316.0,3306.1 L1320.0,3311.2 L1324.0,3312.2 L1328.0,3313.4 L1332.0,3318.8 L1336.0,3321.5 L1340.0,3309.7 L1344.0,3291.0 L1348.0,3311.8 L1352.0,3328.8 L1356.0,3345.7 L1360.0,3348.4 L1364.0,3363.1 L1368.0,3353.2 L1372.0,3349.1 L1376.0,3338.6 L1380.0,3332.6 L1384.0,3323.9 L1388.0,3324.8 L1392.0,3336.5 L1396.0,3354.3 L1400.0,3350.0 L1404.0,3336.7 L1408.0,3330.4 L1412.0,3328.5 L1416.0,3341.9 L1420.0,3354.0 L1424.0,3364.6 L1428.0,3362.5 L1432.0,3351.2 L1436.0,3353.5 L1440.0,3360.7 L1443.3,3363.1 L1446.6,3332.0 L1449.9,3343.8 L1453.2,3345.5 L1456.5,3332.5 L1459.8,3347.7 L1463.1,3348.2 L1466.4,3354.8 L1469.7,3348.2 L1473.0,3362.4 L1476.3,3358.7 L1479.6,3374.3 L1482.9,3373.9 L1486.2,3371.6 L1489.5,3362.3 L1492.8,3394.2 L1496.1,3388.6 L1499.4,3386.0 L1502.7,3367.8 L1506.0,3369.7 L1509.3,3390.0 L1512.6,3376.4 L1515.9,3355.1 L1519.2,3362.2 L1522.5,3360.1 L1525.8,3352.8 L1529.1,3340.6 L1532.4,3361.9 L1535.7,3350.2 L1539.0,3338.0 L1542.3,3320.2 L1545.6,3330.3 L1548.9,3335.8 L1552.2,3344.8 L1555.5,3329.4 L1558.8,3345.7 L1562.1,3334.7 L1565.4,3326.6 L1568.7,3306.5 L1572.0,3329.2 L1575.3,3329.0 L1578.6,3347.1 L1581.9,3353.6 L1585.2,3365.9 L1588.5,3349.9 L1591.8,3337.5 L1595.1,3380.6 L1598.4,3358.8 L1601.7,3353.8 L1605.0,3353.5 L1608.3,3338.6 L1611.6,3359.9 L1614.9,3354.5 L1618.2,3366.9 L1621.5,3359.5 L1624.8,3355.3 L1628.1,3358.1 L1631.4,3337.3 L1634.7,3333.1 L1638.0,3335.8 L1641.3,3320.0 L1644.6,3333.0 L1647.9,3331.7 L1651.2,3345.9 L1654.5,3340.7 L1657.8,3321.7 L1661.1,3349.8 L1664.4,3371.8 L1667.7,3337.9 L1671.0,3356.8 L1674.3,3372.0 L1677.6,3360.8 L1680.9,3375.0 L1684.2,3386.6 L1687.5,3373.4 L1690.8,3396.6 L1694.1,3401.1 L1697.4,3383.1 L1700.7,3401.0 L1704.0,3415.1 L1707.3,3400.0 L1710.6,3407.4 L1713.9,3409.3 L1717.2,3397.4 L1720.5,3411.1 L1723.8,3402.0 L1727.1,3382.6 L1730.4,3399.0 L1733.7,3400.4 L1737.0,3396.6 L1740.3,3375.6 L1743.6,3386.9 L1746.9,3396.1 L1750.2,3379.4 L1753.5,3389.0 L1756.8,3387.8 L1760.1,3368.0 L1763.4,3374.1 L1766.7,3360.6 L1770.0,3377.4 L1773.3,3363.5 L1776.6,3359.0 L1779.9,3367.2 L1783.2,3368.5 L1786.5,3376.5 L1789.8,3380.5 L1793.1,3363.2 L1796.4,3373.8 L1799.7,3391.1 L1803.0,3396.8 L1806.3,3394.9 L1809.6,3429.6 L1812.9,3410.9 L1816.2,3395.8 L1819.5,3406.3 L1822.8,3414.2 L1826.1,3401.3 L1829.4,3373.4 L1832.7,3396.5 L1836.0,3395.1 L1839.3,3421.6 L1842.6,3369.4 L1845.9,3413.3 L1849.2,3391.0 L1852.5,3405.2 L1855.8,3389.1 L1859.1,3395.1 L1862.4,3407.5 L1865.7,3393.5 L1869.0,3406.1 L1872.3,3390.9 L1875.6,3386.4 L1878.9,3388.7 L1882.2,3384.7 L1885.5,3389.6 L1888.8,3409.1 L1892.1,3375.2 L1895.4,3368.4 L1898.7,3390.1 L1902.0,3412.6 L1905.3,3403.9 L1908.6,3407.4 L1911.9,3406.3 L1915.2,3379.5 L1918.5,3390.7 L1921.8,3353.1 L1925.1,3380.5 L1928.4,3396.7 L1931.7,3367.2 L1935.0,3360.2 L1938.3,3370.3 L1941.6,3390.6 L1944.9,3403.3 L1948.2,3422.4 L1951.5,3406.5 L1954.8,3366.2 L1958.1,3355.0 L1961.4,3388.5 L1964.7,3400.7 L1968.0,3363.9 L1971.3,3378.7 L1974.6,3379.5 L1977.9,3386.0 L1981.2,3382.8 L1984.5,3392.2 L1987.8,3399.6 L1991.1,3385.9 L1994.4,3395.1 L1997.7,3412.3 L2001.0,3370.6 L2004.3,3370.2 L2007.6,3391.9 L2010.9,3410.7 L2014.2,3387.4 L2017.5,3400.4 L2020.8,3381.1 L2024.1,3398.4 L2027.4,3377.1 L2030.7,3395.6 L2034.0,3391.9 L2037.3,3392.2 L2040.6,3406.2 L2043.9,3402.2 L2047.2,3378.9 L2050.5,3400.1 L2053.8,3363.9 L2057.1,3402.1 L2060.4,3427.3 L2063.7,3396.2 L2067.0,3396.1 L2070.3,3390.1 L2073.6,3401.4 L2076.9,3383.5 L2080.2,3399.9 L2083.5,3386.8 L2086.8,3385.1 L2090.1,3393.4 L2093.4,3391.2 L2096.7,3367.7 L2100.0,3422.9 L2103.3,3395.7 L2106.6,3369.8 L2109.9,3410.3 L2113.2,3395.0 L2116.5,3398.9 L2119.8,3406.7 L2123.1,3384.1 L2126.4,3354.9 L2129.7,3396.7 L2133.0,3402.2 L2136.3,3413.8 L2139.6,3388.8 L2142.9,3396.5 L2146.2,3406.8 L2149.5,3396.9 L2152.8,3398.5 L2156.1,3406.5 L2159.4,3388.9 L2162.7,3427.5 L2166.0,3391.4 L2169.3,3406.3 L2172.6,3401.7 L2175.9,3397.0 L2179.2,3416.2 L2182.5,3424.2 L2185.8,3431.7 L2189.1,3419.8 L2192.4,3405.5 L2195.7,3425.9 L2199.0,3392.6 L2202.3,3415.7 L2205.6,3423.7 L2208.9,3425.3 L2212.2,3400.6 L2215.5,3396.2 L2218.8,3444.2 L2222.1,3412.4 L2225.4,3395.9 L2226.0,3402.1" stroke="#009494" stroke-width="7.0"/>
<path d="M274.0,2780.9 L274.0,2780.9 L279.0,2784.4 L284.0,2784.7 L289.0,2788.2 L290.2,2786.9 L294.0,2789.9 L299.0,2793.6 L304.0,2797.6 L309.0,2799.1 L314.0,2803.3 L314.5,2803.1 L319.0,2803.5 L324.0,2804.0 L326.6,2805.1 L329.0,2808.2 L334.0,2810.5 L339.0,2816.0 L340.8,2817.2 L344.0,2814.0 L349.0,2811.4 L354.0,2807.4 L359.0,2806.0 L361.0,2803.1 L364.0,2806.8 L369.0,2812.5 L374.0,2820.2 L379.0,2819.9 L384.0,2827.9 L389.0,2831.4 L391.3,2837.5 L394.0,2838.5 L399.0,2840.9 L404.0,2842.9 L409.0,2844.2 L414.0,2844.5 L419.0,2849.7 L419.6,2847.6 L424.0,2855.6 L429.0,2863.4 L434.0,2870.7 L439.0,2881.2 L439.8,2881.9 L444.0,2881.8 L449.0,2882.3 L454.0,2883.7 L459.0,2884.2 L460.0,2884.0 L464.0,2886.4 L469.0,2893.4 L474.0,2894.7 L474.2,2896.1 L479.0,2895.0 L484.0,2897.2 L489.0,2897.3 L494.0,2897.5 L499.0,2897.2 L504.0,2898.2 L504.5,2898.1 L509.0,2901.4 L514.0,2904.3 L519.0,2911.8 L520.7,2912.3 L524.0,2909.0 L529.0,2907.2 L534.0,2905.6 L539.0,2901.8 L544.0,2902.5 L549.0,2896.1 L549.0,2894.4 L554.0,2900.2 L559.0,2906.3 L564.0,2912.9 L565.1,2912.3 L569.0,2915.0 L574.0,2917.4 L579.0,2924.7 L584.0,2925.9 L589.0,2930.8 L593.4,2934.5 L594.0,2936.1 L599.0,2937.4 L604.0,2941.0 L605.6,2942.6 L609.0,2951.2 L614.0,2961.8 L619.0,2974.0 L624.0,2983.9 L625.8,2989.1 L629.0,2984.3 L634.0,2975.9 L639.0,2968.1 L639.9,2968.9 L644.0,2976.8 L649.0,2982.0 L654.0,2989.5 L656.1,2991.1 L659.0,2986.6 L664.0,2982.3 L669.0,2976.6 L674.0,2969.5 L676.3,2968.9 L679.0,2971.4 L684.0,2973.1 L689.0,2977.1 L694.0,2978.7 L694.5,2981.0 L699.0,2997.4 L700.6,3001.2 L704.0,2999.3 L709.0,2994.7 L712.7,2991.1 L714.0,2991.3 L719.0,2996.7 L724.0,3004.0 L729.0,3007.1 L730.9,3009.3 L734.0,3010.0 L739.0,3010.5 L744.0,3009.5 L747.1,3011.3 L749.0,3016.3 L754.0,3019.2 L755.2,3023.4 L759.0,3018.1 L764.0,3010.5 L769.0,3001.3 L773.4,2997.2 L774.0,2999.7 L779.0,3014.9 L784.0,3029.3 L787.5,3039.6 L789.0,3037.3 L794.0,3035.1 L799.0,3032.1 L804.0,3027.0 L805.7,3025.5 L809.0,3038.2 L814.0,3052.8 L819.0,3068.4 L819.8,3069.9 L824.0,3067.6 L829.0,3059.9 L834.0,3055.8 L834.0,3055.2 L839.0,3063.7 L844.0,3071.0 L849.0,3079.5 L852.2,3082.1 L854.0,3080.4 L859.0,3070.6 L860.0,3069.3 L864.0,3068.7 L868.0,3069.2 L872.0,3069.6 L876.0,3071.1 L880.0,3065.7 L884.0,3064.0 L888.0,3063.3 L892.0,3059.6 L896.0,3064.7 L900.0,3064.8 L904.0,3083.9 L908.0,3095.8 L912.0,3104.5 L916.0,3101.7 L920.0,3093.0 L924.0,3106.9 L928.0,3105.7 L932.0,3110.2 L936.0,3109.8 L940.0,3116.8 L944.0,3109.0 L948.0,3099.8 L952.0,3097.5 L956.0,3106.5 L960.0,3108.9 L964.0,3110.1 L968.0,3116.9 L972.0,3115.5 L976.0,3115.6 L980.0,3123.0 L984.0,3118.5 L988.0,3118.3 L992.0,3120.1 L996.0,3128.5 L1000.0,3145.4 L1004.0,3160.6 L1008.0,3157.5 L1012.0,3147.0 L1016.0,3137.0 L1020.0,3127.7 L1024.0,3142.6 L1028.0,3157.5 L1032.0,3165.3 L1036.0,3170.8 L1040.0,3173.1 L1044.0,3168.9 L1048.0,3167.7 L1052.0,3155.6 L1056.0,3157.0 L1060.0,3174.6 L1064.0,3173.1 L1068.0,3181.6 L1072.0,3173.1 L1076.0,3178.0 L1080.0,3180.8 L1084.0,3180.0 L1088.0,3177.0 L1092.0,3184.0 L1096.0,3191.7 L1100.0,3200.6 L1104.0,3193.9 L1108.0,3190.8 L1112.0,3193.2 L1116.0,3196.4 L1120.0,3199.6 L1124.0,3200.1 L1128.0,3194.2 L1132.0,3200.2 L1136.0,3188.1 L1140.0,3196.5 L1144.0,3193.8 L1148.0,3207.5 L1152.0,3219.3 L1156.0,3228.3 L1160.0,3223.2 L1164.0,3216.6 L1168.0,3210.2 L1172.0,3218.3 L1176.0,3217.9 L1180.0,3220.8 L1184.0,3212.5 L1188.0,3206.5 L1192.0,3206.7 L1196.0,3219.2 L1200.0,3226.0 L1204.0,3238.2 L1208.0,3245.8 L1212.0,3243.1 L1216.0,3246.9 L1220.0,3255.5 L1224.0,3257.7 L1228.0,3249.7 L1232.0,3246.8 L1236.0,3247.0 L1240.0,3242.8 L1244.0,3243.0 L1248.0,3248.5 L1252.0,3250.5 L1256.0,3261.2 L1260.0,3270.6 L1264.0,3277.0 L1268.0,3285.6 L1272.0,3277.7 L1276.0,3274.5 L1280.0,3270.4 L1284.0,3260.8 L1288.0,3263.2 L1292.0,3258.4 L1296.0,3262.3 L1300.0,3263.3 L1304.0,3267.7 L1308.0,3272.5 L1312.0,3277.0 L1316.0,3286.0 L1320.0,3288.6 L1324.0,3287.7 L1328.0,3280.8 L1332.0,3286.6 L1336.0,3285.9 L1340.0,3283.8 L1344.0,3283.2 L1348.0,3288.0 L1352.0,3291.2 L1356.0,3295.3 L1360.0,3295.4 L1364.0,3291.1 L1368.0,3293.0 L1372.0,3288.5 L1376.0,3293.2 L1380.0,3298.3 L1384.0,3305.9 L1388.0,3307.1 L1392.0,3300.1 L1396.0,3292.5 L1400.0,3287.7 L1404.0,3280.1 L1408.0,3284.4 L1412.0,3313.0 L1416.0,3320.8 L1420.0,3313.5 L1424.0,3313.9 L1428.0,3301.5 L1432.0,3301.1 L1436.0,3301.4 L1440.0,3306.7 L1443.3,3314.7 L1446.6,3328.9 L1449.9,3319.5 L1453.2,3324.0 L1456.5,3332.0 L1459.8,3312.7 L1463.1,3315.4 L1466.4,3331.8 L1469.7,3324.0 L1473.0,3329.5 L1476.3,3299.8 L1479.6,3321.2 L1482.9,3307.5 L1486.2,3306.1 L1489.5,3324.4 L1492.8,3333.1 L1496.1,3304.3 L1499.4,3308.2 L1502.7,3313.7 L1506.0,3318.1 L1509.3,3303.2 L1512.6,3343.2 L1515.9,3323.3 L1519.2,3312.1 L1522.5,3310.4 L1525.8,3344.0 L1529.1,3344.7 L1532.4,3315.4 L1535.7,3328.4 L1539.0,3343.4 L1542.3,3319.2 L1545.6,3329.8 L1548.9,3355.5 L1552.2,3333.6 L1555.5,3336.8 L1558.8,3324.3 L1562.1,3328.5 L1565.4,3342.5 L1568.7,3320.8 L1572.0,3310.6 L1575.3,3313.4 L1578.6,3336.5 L1581.9,3312.8 L1585.2,3300.9 L1588.5,3308.0 L1591.8,3311.6 L1595.1,3309.1 L1598.4,3288.3 L1601.7,3316.5 L1605.0,3312.4 L1608.3,3326.8 L1611.6,3302.1 L1614.9,3333.8 L1618.2,3317.8 L1621.5,3305.9 L1624.8,3346.1 L1628.1,3326.1 L1631.4,3339.1 L1634.7,3334.9 L1638.0,3353.2 L1641.3,3356.8 L1644.6,3360.6 L1647.9,3359.6 L1651.2,3334.0 L1654.5,3335.6 L1657.8,3360.7 L1661.1,3347.7 L1664.4,3366.6 L1667.7,3364.3 L1671.0,3346.2 L1674.3,3352.5 L1677.6,3351.9 L1680.9,3354.6 L1684.2,3362.0 L1687.5,3372.2 L1690.8,3380.3 L1694.1,3351.4 L1697.4,3357.6 L1700.7,3385.9 L1704.0,3378.9 L1707.3,3371.5 L1710.6,3338.8 L1713.9,3356.1 L1717.2,3371.8 L1720.5,3363.5 L1723.8,3399.5 L1727.1,3378.7 L1730.4,3385.0 L1733.7,3371.1 L1737.0,3375.6 L1740.3,3384.0 L1743.6,3387.7 L1746.9,3396.2 L1750.2,3408.4 L1753.5,3411.9 L1756.8,3427.2 L1760.1,3401.1 L1763.4,3425.8 L1766.7,3428.9 L1770.0,3448.2 L1773.3,3425.3 L1776.6,3433.7 L1779.9,3419.9 L1783.2,3438.1 L1786.5,3439.5 L1789.8,3426.6 L1793.1,3428.7 L1796.4,3433.5 L1799.7,3441.3 L1803.0,3417.9 L1806.3,3445.8 L1809.6,3430.7 L1812.9,3462.0 L1816.2,3457.0 L1819.5,3432.0 L1822.8,3428.1 L1826.1,3468.5 L1829.4,3442.4 L1832.7,3440.7 L1836.0,3426.6 L1839.3,3430.5 L1842.6,3443.4 L1845.9,3440.9 L1849.2,3420.9 L1852.5,3482.0 L1855.8,3435.7 L1859.1,3417.9 L1862.4,3444.9 L1865.7,3429.1 L1869.0,3442.7 L1872.3,3424.5 L1875.6,3437.5 L1878.9,3410.2 L1882.2,3438.4 L1885.5,3412.3 L1888.8,3436.3 L1892.1,3398.9 L1895.4,3433.9 L1898.7,3445.5 L1902.0,3442.6 L1905.3,3453.1 L1908.6,3421.6 L1911.9,3459.5 L1915.2,3460.6 L1918.5,3421.3 L1921.8,3427.6 L1925.1,3431.3 L1928.4,3439.7 L1931.7,3443.2 L1935.0,3405.9 L1938.3,3450.1 L1941.6,3438.6 L1944.9,3428.1 L1948.2,3456.9 L1951.5,3438.9 L1954.8,3460.8 L1958.1,3452.6 L1961.4,3476.0 L1964.7,3462.9 L1968.0,3458.1 L1971.3,3439.5 L1974.6,3423.8 L1977.9,3439.7 L1981.2,3457.0 L1984.5,3444.8 L1987.8,3474.4 L1991.1,3452.7 L1994.4,3452.0 L1997.7,3455.3 L2001.0,3436.6 L2004.3,3448.0 L2007.6,3440.2 L2010.9,3415.6 L2014.2,3424.1 L2017.5,3461.6 L2020.8,3444.3 L2024.1,3449.3 L2027.4,3429.3 L2030.7,3442.8 L2034.0,3463.4 L2037.3,3453.4 L2040.6,3444.5 L2043.9,3475.5 L2047.2,3452.0 L2050.5,3448.2 L2053.8,3471.1 L2057.1,3428.4 L2060.4,3463.5 L2063.7,3439.0 L2067.0,3444.7 L2070.3,3447.1 L2073.6,3460.3 L2076.9,3461.0 L2080.2,3500.0 L2083.5,3464.5 L2086.8,3483.7 L2090.1,3489.1 L2093.4,3475.1 L2096.7,3476.7 L2100.0,3460.2 L2103.3,3449.8 L2106.6,3476.4 L2109.9,3468.4 L2113.2,3481.5 L2116.5,3440.5 L2119.8,3510.3 L2123.1,3534.0 L2126.4,3469.6 L2129.7,3484.3 L2133.0,3447.1 L2136.3,3459.5 L2139.6,3436.2 L2142.9,3444.8 L2146.2,3436.2 L2149.5,3467.3 L2152.8,3469.5 L2156.1,3459.0 L2159.4,3490.0 L2162.7,3483.9 L2166.0,3461.0 L2169.3,3456.6 L2172.6,3454.8 L2175.9,3451.0 L2179.2,3477.9 L2182.5,3460.0 L2185.8,3450.0 L2189.1,3450.7 L2192.4,3462.0 L2195.7,3446.0 L2199.0,3456.4 L2202.3,3449.8 L2205.6,3471.1 L2208.9,3467.0 L2212.2,3424.8 L2215.5,3444.1 L2218.8,3457.4 L2222.1,3438.0 L2225.4,3457.7 L2226.0,3449.9" stroke="#000000" stroke-width="7.0"/>
</g>
</svg>
</body></html>
